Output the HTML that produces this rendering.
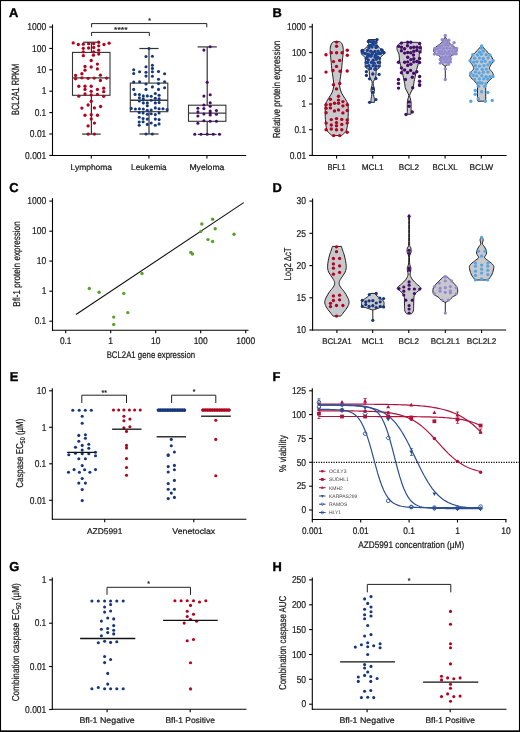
<!DOCTYPE html><html><head><meta charset="utf-8"><style>html,body{margin:0;padding:0;background:#fff}svg{display:block;will-change:transform}text{font-family:"Liberation Sans",sans-serif;stroke:currentColor;stroke-width:0.22px;paint-order:stroke;text-rendering:geometricPrecision}</style></head><body>
<svg width="520" height="732" viewBox="0 0 520 732">
<rect x="0" y="0" width="520" height="732" fill="#fff"/>
<text x="9" y="17.2" font-size="12.9" font-weight="bold" fill="#000" style="stroke:#000;stroke-width:0.35px">A</text>
<line x1="52.5" y1="24.4" x2="52.5" y2="156" stroke="#000" stroke-width="1.1" />
<line x1="49.3" y1="27" x2="52.5" y2="27" stroke="#000" stroke-width="1.1" />
<text x="46.3" y="30.2" font-size="10" text-anchor="end" font-weight="normal" fill="#1a1a1a" color="#1a1a1a" textLength="19.08" lengthAdjust="spacingAndGlyphs" >1000</text>
<line x1="49.3" y1="48.4" x2="52.5" y2="48.4" stroke="#000" stroke-width="1.1" />
<text x="46.3" y="51.6" font-size="10" text-anchor="end" font-weight="normal" fill="#1a1a1a" color="#1a1a1a" textLength="14.2" lengthAdjust="spacingAndGlyphs" >100</text>
<line x1="49.3" y1="69.8" x2="52.5" y2="69.8" stroke="#000" stroke-width="1.1" />
<text x="46.3" y="73" font-size="10" text-anchor="end" font-weight="normal" fill="#1a1a1a" color="#1a1a1a" textLength="9.43" lengthAdjust="spacingAndGlyphs" >10</text>
<line x1="49.3" y1="91.2" x2="52.5" y2="91.2" stroke="#000" stroke-width="1.1" />
<text x="46.3" y="94.4" font-size="10" text-anchor="end" font-weight="normal" fill="#1a1a1a" color="#1a1a1a" textLength="4.66" lengthAdjust="spacingAndGlyphs" >1</text>
<line x1="49.3" y1="112.6" x2="52.5" y2="112.6" stroke="#000" stroke-width="1.1" />
<text x="46.3" y="115.8" font-size="10" text-anchor="end" font-weight="normal" fill="#1a1a1a" color="#1a1a1a" textLength="11.66" lengthAdjust="spacingAndGlyphs" >0.1</text>
<line x1="49.3" y1="134" x2="52.5" y2="134" stroke="#000" stroke-width="1.1" />
<text x="46.3" y="137.2" font-size="10" text-anchor="end" font-weight="normal" fill="#1a1a1a" color="#1a1a1a" textLength="16.43" lengthAdjust="spacingAndGlyphs" >0.01</text>
<line x1="49.3" y1="155.4" x2="52.5" y2="155.4" stroke="#000" stroke-width="1.1" />
<text x="46.3" y="158.6" font-size="10" text-anchor="end" font-weight="normal" fill="#1a1a1a" color="#1a1a1a" textLength="21.2" lengthAdjust="spacingAndGlyphs" >0.001</text>
<line x1="52" y1="155.5" x2="246.2" y2="155.5" stroke="#000" stroke-width="1.1" />
<line x1="91.3" y1="155.5" x2="91.3" y2="158.5" stroke="#000" stroke-width="1.1" />
<text x="91.3" y="169.6" font-size="8.2" text-anchor="middle" font-weight="normal" fill="#1a1a1a" color="#1a1a1a" textLength="41.5" lengthAdjust="spacingAndGlyphs" >Lymphoma</text>
<line x1="148.9" y1="155.5" x2="148.9" y2="158.5" stroke="#000" stroke-width="1.1" />
<text x="148.9" y="169.6" font-size="8.2" text-anchor="middle" font-weight="normal" fill="#1a1a1a" color="#1a1a1a" textLength="35.6" lengthAdjust="spacingAndGlyphs" >Leukemia</text>
<line x1="206.9" y1="155.5" x2="206.9" y2="158.5" stroke="#000" stroke-width="1.1" />
<text x="206.9" y="169.6" font-size="8.2" text-anchor="middle" font-weight="normal" fill="#1a1a1a" color="#1a1a1a" textLength="35" lengthAdjust="spacingAndGlyphs" >Myeloma</text>
<text transform="translate(19,89.4) rotate(-90)" font-size="10.5" text-anchor="middle" fill="#1a1a1a" color="#1a1a1a" textLength="51.4" lengthAdjust="spacingAndGlyphs">BCL2A1 RPKM</text>
<path d="M91.6 27.3 V23.6 H206.8 V27.3" fill="none" stroke="#222" stroke-width="1"/>
<path d="M91.6 36 V32.4 H149.3 V36" fill="none" stroke="#222" stroke-width="1"/>
<text x="149.6" y="23.2" font-size="7" text-anchor="middle" font-weight="normal" fill="#222" color="#222" >*</text>
<text x="120.8" y="31.8" font-size="7" text-anchor="middle" font-weight="normal" fill="#222" color="#222" textLength="13.5" lengthAdjust="spacingAndGlyphs" >****</text>
<rect x="72.5" y="52.4" width="37.5" height="42.9" fill="none" stroke="#333" stroke-width="1.1"/>
<line x1="72.5" y1="77.9" x2="110" y2="77.9" stroke="#3a3a3a" stroke-width="1.4" />
<line x1="91.4" y1="42.25" x2="91.4" y2="52.4" stroke="#333" stroke-width="1.2" />
<line x1="91.4" y1="95.3" x2="91.4" y2="134.1" stroke="#333" stroke-width="1.2" />
<line x1="83.2" y1="42.25" x2="99.6" y2="42.25" stroke="#333" stroke-width="1.2" />
<line x1="82.1" y1="134.1" x2="100.7" y2="134.1" stroke="#333" stroke-width="1.2" />
<rect x="130.3" y="83.1" width="37.5" height="28.6" fill="none" stroke="#333" stroke-width="1.1"/>
<line x1="130.3" y1="100.2" x2="167.8" y2="100.2" stroke="#3a3a3a" stroke-width="1.4" />
<line x1="149" y1="48.5" x2="149" y2="83.1" stroke="#333" stroke-width="1.2" />
<line x1="149" y1="111.7" x2="149" y2="134" stroke="#333" stroke-width="1.2" />
<line x1="139.4" y1="48.5" x2="158.6" y2="48.5" stroke="#333" stroke-width="1.2" />
<line x1="139.4" y1="134" x2="158.6" y2="134" stroke="#333" stroke-width="1.2" />
<rect x="188.5" y="105.2" width="37.4" height="16.1" fill="none" stroke="#333" stroke-width="1.1"/>
<line x1="188.5" y1="113.1" x2="225.9" y2="113.1" stroke="#3a3a3a" stroke-width="1.4" />
<line x1="207.2" y1="46.9" x2="207.2" y2="105.2" stroke="#333" stroke-width="1.2" />
<line x1="207.2" y1="121.3" x2="207.2" y2="134.4" stroke="#333" stroke-width="1.2" />
<line x1="197.6" y1="46.9" x2="216.8" y2="46.9" stroke="#333" stroke-width="1.2" />
<line x1="197.8" y1="134.4" x2="216.6" y2="134.4" stroke="#333" stroke-width="1.2" />
<circle cx="73.2" cy="42.9" r="1.65" fill="#b0041f"/>
<circle cx="78.3" cy="44.5" r="1.65" fill="#b0041f"/>
<circle cx="83.3" cy="44.2" r="1.65" fill="#b0041f"/>
<circle cx="88.6" cy="43.7" r="1.65" fill="#b0041f"/>
<circle cx="93.7" cy="43.7" r="1.65" fill="#b0041f"/>
<circle cx="98.7" cy="42.25" r="1.65" fill="#b0041f"/>
<circle cx="104" cy="44.5" r="1.65" fill="#b0041f"/>
<circle cx="109.1" cy="43.2" r="1.65" fill="#b0041f"/>
<circle cx="98.7" cy="45.8" r="1.65" fill="#b0041f"/>
<circle cx="83.3" cy="48.3" r="1.65" fill="#b0041f"/>
<circle cx="88.6" cy="48" r="1.65" fill="#b0041f"/>
<circle cx="93.7" cy="47.5" r="1.65" fill="#b0041f"/>
<circle cx="98.7" cy="50.2" r="1.65" fill="#b0041f"/>
<circle cx="83.3" cy="51.9" r="1.65" fill="#b0041f"/>
<circle cx="93.7" cy="51.9" r="1.65" fill="#b0041f"/>
<circle cx="83.3" cy="55.7" r="1.65" fill="#b0041f"/>
<circle cx="93.4" cy="55.2" r="1.65" fill="#b0041f"/>
<circle cx="98.7" cy="54.1" r="1.65" fill="#b0041f"/>
<circle cx="91.2" cy="60.5" r="1.65" fill="#b0041f"/>
<circle cx="97.4" cy="64.1" r="1.65" fill="#b0041f"/>
<circle cx="85" cy="66.5" r="1.65" fill="#b0041f"/>
<circle cx="91.2" cy="67" r="1.65" fill="#b0041f"/>
<circle cx="97.4" cy="68.9" r="1.65" fill="#b0041f"/>
<circle cx="85" cy="70.2" r="1.65" fill="#b0041f"/>
<circle cx="81.9" cy="73.75" r="1.65" fill="#b0041f"/>
<circle cx="75.6" cy="75.4" r="1.65" fill="#b0041f"/>
<circle cx="100.4" cy="75.2" r="1.65" fill="#b0041f"/>
<circle cx="75.6" cy="78.8" r="1.65" fill="#b0041f"/>
<circle cx="81.9" cy="77.8" r="1.65" fill="#b0041f"/>
<circle cx="88.1" cy="78.3" r="1.65" fill="#b0041f"/>
<circle cx="94.2" cy="78.1" r="1.65" fill="#b0041f"/>
<circle cx="100.4" cy="80.5" r="1.65" fill="#b0041f"/>
<circle cx="106.6" cy="78.1" r="1.65" fill="#b0041f"/>
<circle cx="78.8" cy="86.25" r="1.65" fill="#b0041f"/>
<circle cx="85" cy="86.25" r="1.65" fill="#b0041f"/>
<circle cx="91.2" cy="86.25" r="1.65" fill="#b0041f"/>
<circle cx="85" cy="89.4" r="1.65" fill="#b0041f"/>
<circle cx="91.2" cy="91.3" r="1.65" fill="#b0041f"/>
<circle cx="97.4" cy="89.4" r="1.65" fill="#b0041f"/>
<circle cx="103.7" cy="88.2" r="1.65" fill="#b0041f"/>
<circle cx="103.7" cy="91.7" r="1.65" fill="#b0041f"/>
<circle cx="85" cy="94" r="1.65" fill="#b0041f"/>
<circle cx="91.2" cy="94.9" r="1.65" fill="#b0041f"/>
<circle cx="97.4" cy="94.4" r="1.65" fill="#b0041f"/>
<circle cx="78.8" cy="96.2" r="1.65" fill="#b0041f"/>
<circle cx="103.7" cy="96.3" r="1.65" fill="#b0041f"/>
<circle cx="91.25" cy="101.25" r="1.65" fill="#b0041f"/>
<circle cx="88.1" cy="105" r="1.65" fill="#b0041f"/>
<circle cx="81.9" cy="108.1" r="1.65" fill="#b0041f"/>
<circle cx="94.4" cy="107.9" r="1.65" fill="#b0041f"/>
<circle cx="100.6" cy="106.5" r="1.65" fill="#b0041f"/>
<circle cx="85" cy="115.25" r="1.65" fill="#b0041f"/>
<circle cx="91.25" cy="114.75" r="1.65" fill="#b0041f"/>
<circle cx="97.5" cy="115.25" r="1.65" fill="#b0041f"/>
<circle cx="91.25" cy="119" r="1.65" fill="#b0041f"/>
<circle cx="94.4" cy="123.1" r="1.65" fill="#b0041f"/>
<circle cx="88.1" cy="125.9" r="1.65" fill="#b0041f"/>
<circle cx="88.1" cy="134.1" r="1.65" fill="#b0041f"/>
<circle cx="94.4" cy="134.1" r="1.65" fill="#b0041f"/>
<circle cx="149" cy="48.5" r="1.55" fill="#17377c"/>
<circle cx="146" cy="56.5" r="1.55" fill="#17377c"/>
<circle cx="152.4" cy="56.2" r="1.55" fill="#17377c"/>
<circle cx="146" cy="66.7" r="1.55" fill="#17377c"/>
<circle cx="152.4" cy="65.2" r="1.55" fill="#17377c"/>
<circle cx="152.4" cy="68.4" r="1.55" fill="#17377c"/>
<circle cx="133.7" cy="69.8" r="1.55" fill="#17377c"/>
<circle cx="133.7" cy="73.5" r="1.55" fill="#17377c"/>
<circle cx="139.6" cy="71.7" r="1.55" fill="#17377c"/>
<circle cx="146" cy="72.2" r="1.55" fill="#17377c"/>
<circle cx="146" cy="76.1" r="1.55" fill="#17377c"/>
<circle cx="152.4" cy="71.7" r="1.55" fill="#17377c"/>
<circle cx="152.4" cy="76.3" r="1.55" fill="#17377c"/>
<circle cx="158.5" cy="71.5" r="1.55" fill="#17377c"/>
<circle cx="164.6" cy="73.8" r="1.55" fill="#17377c"/>
<circle cx="158.5" cy="79.2" r="1.55" fill="#17377c"/>
<circle cx="133.7" cy="82.1" r="1.55" fill="#17377c"/>
<circle cx="139.6" cy="81.8" r="1.55" fill="#17377c"/>
<circle cx="146" cy="84" r="1.55" fill="#17377c"/>
<circle cx="158.5" cy="83.6" r="1.55" fill="#17377c"/>
<circle cx="164.6" cy="81.8" r="1.55" fill="#17377c"/>
<circle cx="152.4" cy="86.9" r="1.55" fill="#17377c"/>
<circle cx="133.7" cy="89.4" r="1.55" fill="#17377c"/>
<circle cx="146" cy="89.4" r="1.55" fill="#17377c"/>
<circle cx="158.5" cy="89.4" r="1.55" fill="#17377c"/>
<circle cx="164.6" cy="87.7" r="1.55" fill="#17377c"/>
<circle cx="135.1" cy="94.4" r="1.55" fill="#17377c"/>
<circle cx="139.4" cy="94.6" r="1.55" fill="#17377c"/>
<circle cx="143.3" cy="95.9" r="1.55" fill="#17377c"/>
<circle cx="147.3" cy="95.9" r="1.55" fill="#17377c"/>
<circle cx="151.2" cy="96.3" r="1.55" fill="#17377c"/>
<circle cx="155.3" cy="93.5" r="1.55" fill="#17377c"/>
<circle cx="159.1" cy="95.2" r="1.55" fill="#17377c"/>
<circle cx="139.4" cy="97.8" r="1.55" fill="#17377c"/>
<circle cx="143.3" cy="98.75" r="1.55" fill="#17377c"/>
<circle cx="151.2" cy="100.2" r="1.55" fill="#17377c"/>
<circle cx="155.3" cy="98.3" r="1.55" fill="#17377c"/>
<circle cx="159.1" cy="98.75" r="1.55" fill="#17377c"/>
<circle cx="139.4" cy="101" r="1.55" fill="#17377c"/>
<circle cx="143.3" cy="102.9" r="1.55" fill="#17377c"/>
<circle cx="147.3" cy="102.9" r="1.55" fill="#17377c"/>
<circle cx="155.3" cy="102.9" r="1.55" fill="#17377c"/>
<circle cx="159.1" cy="102.6" r="1.55" fill="#17377c"/>
<circle cx="147.3" cy="105.8" r="1.55" fill="#17377c"/>
<circle cx="131.25" cy="108.4" r="1.55" fill="#17377c"/>
<circle cx="135.4" cy="109" r="1.55" fill="#17377c"/>
<circle cx="139.4" cy="108.8" r="1.55" fill="#17377c"/>
<circle cx="143.3" cy="109" r="1.55" fill="#17377c"/>
<circle cx="147.3" cy="110.3" r="1.55" fill="#17377c"/>
<circle cx="151.2" cy="110" r="1.55" fill="#17377c"/>
<circle cx="155.3" cy="107.9" r="1.55" fill="#17377c"/>
<circle cx="159.1" cy="108.7" r="1.55" fill="#17377c"/>
<circle cx="163" cy="108.8" r="1.55" fill="#17377c"/>
<circle cx="167.1" cy="109.6" r="1.55" fill="#17377c"/>
<circle cx="139.2" cy="112.4" r="1.55" fill="#17377c"/>
<circle cx="143.1" cy="112.9" r="1.55" fill="#17377c"/>
<circle cx="147.3" cy="114.3" r="1.55" fill="#17377c"/>
<circle cx="151.2" cy="113.8" r="1.55" fill="#17377c"/>
<circle cx="155.3" cy="114.6" r="1.55" fill="#17377c"/>
<circle cx="159.1" cy="112.9" r="1.55" fill="#17377c"/>
<circle cx="139.2" cy="117.2" r="1.55" fill="#17377c"/>
<circle cx="143.1" cy="118.5" r="1.55" fill="#17377c"/>
<circle cx="147.3" cy="119.1" r="1.55" fill="#17377c"/>
<circle cx="155.3" cy="119.1" r="1.55" fill="#17377c"/>
<circle cx="159.1" cy="119.6" r="1.55" fill="#17377c"/>
<circle cx="139.2" cy="122" r="1.55" fill="#17377c"/>
<circle cx="143.1" cy="121.7" r="1.55" fill="#17377c"/>
<circle cx="147.3" cy="124.4" r="1.55" fill="#17377c"/>
<circle cx="151.2" cy="123" r="1.55" fill="#17377c"/>
<circle cx="139.2" cy="125.2" r="1.55" fill="#17377c"/>
<circle cx="155.3" cy="125.2" r="1.55" fill="#17377c"/>
<circle cx="159.1" cy="123.9" r="1.55" fill="#17377c"/>
<circle cx="146" cy="134" r="1.55" fill="#17377c"/>
<circle cx="152.4" cy="134" r="1.55" fill="#17377c"/>
<circle cx="210.1" cy="46.7" r="1.55" fill="#450d68"/>
<circle cx="203.9" cy="50.1" r="1.55" fill="#450d68"/>
<circle cx="207.2" cy="82.3" r="1.55" fill="#450d68"/>
<circle cx="203.9" cy="96.1" r="1.55" fill="#450d68"/>
<circle cx="210.2" cy="94.8" r="1.55" fill="#450d68"/>
<circle cx="210.2" cy="102.8" r="1.55" fill="#450d68"/>
<circle cx="203.9" cy="105" r="1.55" fill="#450d68"/>
<circle cx="210.2" cy="106.2" r="1.55" fill="#450d68"/>
<circle cx="197.9" cy="108.3" r="1.55" fill="#450d68"/>
<circle cx="203.9" cy="108.6" r="1.55" fill="#450d68"/>
<circle cx="197.9" cy="111.9" r="1.55" fill="#450d68"/>
<circle cx="210.2" cy="111" r="1.55" fill="#450d68"/>
<circle cx="216.4" cy="110.5" r="1.55" fill="#450d68"/>
<circle cx="203.9" cy="114" r="1.55" fill="#450d68"/>
<circle cx="210.2" cy="112.9" r="1.55" fill="#450d68"/>
<circle cx="210.2" cy="115" r="1.55" fill="#450d68"/>
<circle cx="216.4" cy="114.3" r="1.55" fill="#450d68"/>
<circle cx="197.9" cy="116" r="1.55" fill="#450d68"/>
<circle cx="203.9" cy="120.8" r="1.55" fill="#450d68"/>
<circle cx="210.2" cy="121.3" r="1.55" fill="#450d68"/>
<circle cx="216.4" cy="121.3" r="1.55" fill="#450d68"/>
<circle cx="197.9" cy="123.3" r="1.55" fill="#450d68"/>
<circle cx="194.8" cy="134.2" r="1.55" fill="#450d68"/>
<circle cx="201" cy="134.2" r="1.55" fill="#450d68"/>
<circle cx="207.2" cy="134.2" r="1.55" fill="#450d68"/>
<circle cx="213.25" cy="134.2" r="1.55" fill="#450d68"/>
<circle cx="219.5" cy="134.2" r="1.55" fill="#450d68"/>
<text x="272.6" y="17.2" font-size="12.9" font-weight="bold" fill="#000" style="stroke:#000;stroke-width:0.35px">B</text>
<line x1="312.3" y1="23.8" x2="312.3" y2="156" stroke="#000" stroke-width="1.1" />
<line x1="309.1" y1="26.9" x2="312.3" y2="26.9" stroke="#000" stroke-width="1.1" />
<text x="306.1" y="30.1" font-size="10" text-anchor="end" font-weight="normal" fill="#1a1a1a" color="#1a1a1a" textLength="19.08" lengthAdjust="spacingAndGlyphs" >1000</text>
<line x1="309.1" y1="52.6" x2="312.3" y2="52.6" stroke="#000" stroke-width="1.1" />
<text x="306.1" y="55.8" font-size="10" text-anchor="end" font-weight="normal" fill="#1a1a1a" color="#1a1a1a" textLength="14.2" lengthAdjust="spacingAndGlyphs" >100</text>
<line x1="309.1" y1="78.3" x2="312.3" y2="78.3" stroke="#000" stroke-width="1.1" />
<text x="306.1" y="81.5" font-size="10" text-anchor="end" font-weight="normal" fill="#1a1a1a" color="#1a1a1a" textLength="9.43" lengthAdjust="spacingAndGlyphs" >10</text>
<line x1="309.1" y1="104" x2="312.3" y2="104" stroke="#000" stroke-width="1.1" />
<text x="306.1" y="107.2" font-size="10" text-anchor="end" font-weight="normal" fill="#1a1a1a" color="#1a1a1a" textLength="4.66" lengthAdjust="spacingAndGlyphs" >1</text>
<line x1="309.1" y1="129.7" x2="312.3" y2="129.7" stroke="#000" stroke-width="1.1" />
<text x="306.1" y="132.9" font-size="10" text-anchor="end" font-weight="normal" fill="#1a1a1a" color="#1a1a1a" textLength="11.66" lengthAdjust="spacingAndGlyphs" >0.1</text>
<line x1="309.1" y1="155.4" x2="312.3" y2="155.4" stroke="#000" stroke-width="1.1" />
<text x="306.1" y="158.6" font-size="10" text-anchor="end" font-weight="normal" fill="#1a1a1a" color="#1a1a1a" textLength="16.43" lengthAdjust="spacingAndGlyphs" >0.01</text>
<line x1="312" y1="155.5" x2="506.6" y2="155.5" stroke="#000" stroke-width="1.1" />
<line x1="336.6" y1="155.5" x2="336.6" y2="158.5" stroke="#000" stroke-width="1.1" />
<text x="336.6" y="169.6" font-size="8.2" text-anchor="middle" font-weight="normal" fill="#1a1a1a" color="#1a1a1a" textLength="18" lengthAdjust="spacingAndGlyphs" >BFL1</text>
<line x1="372.7" y1="155.5" x2="372.7" y2="158.5" stroke="#000" stroke-width="1.1" />
<text x="372.7" y="169.6" font-size="8.2" text-anchor="middle" font-weight="normal" fill="#1a1a1a" color="#1a1a1a" textLength="22" lengthAdjust="spacingAndGlyphs" >MCL1</text>
<line x1="408.9" y1="155.5" x2="408.9" y2="158.5" stroke="#000" stroke-width="1.1" />
<text x="408.9" y="169.6" font-size="8.2" text-anchor="middle" font-weight="normal" fill="#1a1a1a" color="#1a1a1a" textLength="20.4" lengthAdjust="spacingAndGlyphs" >BCL2</text>
<line x1="445.1" y1="155.5" x2="445.1" y2="158.5" stroke="#000" stroke-width="1.1" />
<text x="445.1" y="169.6" font-size="8.2" text-anchor="middle" font-weight="normal" fill="#1a1a1a" color="#1a1a1a" textLength="25" lengthAdjust="spacingAndGlyphs" >BCLXL</text>
<line x1="481.3" y1="155.5" x2="481.3" y2="158.5" stroke="#000" stroke-width="1.1" />
<text x="481.3" y="169.6" font-size="8.2" text-anchor="middle" font-weight="normal" fill="#1a1a1a" color="#1a1a1a" textLength="23.6" lengthAdjust="spacingAndGlyphs" >BCLW</text>
<text transform="translate(279.6,89.5) rotate(-90)" font-size="10.2" text-anchor="middle" fill="#1a1a1a" color="#1a1a1a" textLength="97.5" lengthAdjust="spacingAndGlyphs">Relative protein expression</text>
<path d="M339.7 41.7 C340.02 41.95 341.05 42.32 341.6 43.2 C342.15 44.08 342.73 45.45 343 47 C343.27 48.55 343.29 50.33 343.2 52.5 C343.11 54.67 342.76 56.92 342.45 60 C342.14 63.08 341.79 67.33 341.35 71 C340.91 74.67 340.06 79.33 339.8 82 C339.54 84.67 339.51 85.17 339.8 87 C340.09 88.83 340.67 91.05 341.55 93 C342.43 94.95 344.02 96.87 345.1 98.7 C346.17 100.53 347.48 102.62 348 104 C348.52 105.38 348.2 104.4 348.2 107 C348.2 109.6 348.28 115.77 348 119.6 C347.72 123.43 347.35 127.53 346.5 130 C345.65 132.47 343.82 133.47 342.9 134.4 C341.98 135.33 341.32 135.4 341 135.6 L332.4 135.6 C332.08 135.4 331.42 135.33 330.5 134.4 C329.58 133.47 327.75 132.47 326.9 130 C326.05 127.53 325.68 123.43 325.4 119.6 C325.12 115.77 325.2 109.6 325.2 107 C325.2 104.4 324.88 105.38 325.4 104 C325.92 102.62 327.23 100.53 328.3 98.7 C329.38 96.87 330.97 94.95 331.85 93 C332.73 91.05 333.31 88.83 333.6 87 C333.89 85.17 333.86 84.67 333.6 82 C333.34 79.33 332.49 74.67 332.05 71 C331.61 67.33 331.26 63.08 330.95 60 C330.64 56.92 330.29 54.67 330.2 52.5 C330.11 50.33 330.13 48.55 330.4 47 C330.67 45.45 331.25 44.08 331.8 43.2 C332.35 42.32 333.38 41.95 333.7 41.7 Z" fill="#c9c9cd" stroke="#222" stroke-width="1.0" stroke-linejoin="round"/>
<circle cx="336.6" cy="42.1" r="1.7" fill="#b0041f"/>
<circle cx="336.6" cy="46.3" r="1.7" fill="#b0041f"/>
<circle cx="347.3" cy="50.3" r="1.7" fill="#b0041f"/>
<circle cx="331.3" cy="52.7" r="1.7" fill="#b0041f"/>
<circle cx="336.6" cy="52.7" r="1.7" fill="#b0041f"/>
<circle cx="342.1" cy="52.7" r="1.7" fill="#b0041f"/>
<circle cx="326" cy="54.7" r="1.7" fill="#b0041f"/>
<circle cx="347.3" cy="55.3" r="1.7" fill="#b0041f"/>
<circle cx="339.7" cy="60.4" r="1.7" fill="#b0041f"/>
<circle cx="333.5" cy="61.6" r="1.7" fill="#b0041f"/>
<circle cx="336.5" cy="66.4" r="1.7" fill="#b0041f"/>
<circle cx="333" cy="70.5" r="1.7" fill="#b0041f"/>
<circle cx="340.1" cy="71.3" r="1.7" fill="#b0041f"/>
<circle cx="326" cy="72.1" r="1.7" fill="#b0041f"/>
<circle cx="347.2" cy="71" r="1.7" fill="#b0041f"/>
<circle cx="333.5" cy="84.7" r="1.7" fill="#b0041f"/>
<circle cx="339.7" cy="83.5" r="1.7" fill="#b0041f"/>
<circle cx="336.5" cy="88.9" r="1.7" fill="#b0041f"/>
<circle cx="338.5" cy="96.2" r="1.7" fill="#b0041f"/>
<circle cx="330.4" cy="99.3" r="1.7" fill="#b0041f"/>
<circle cx="338.5" cy="100.1" r="1.7" fill="#b0041f"/>
<circle cx="334.5" cy="103.3" r="1.7" fill="#b0041f"/>
<circle cx="338.5" cy="103.2" r="1.7" fill="#b0041f"/>
<circle cx="342.9" cy="101.6" r="1.7" fill="#b0041f"/>
<circle cx="326.1" cy="104.7" r="1.7" fill="#b0041f"/>
<circle cx="330.4" cy="104.5" r="1.7" fill="#b0041f"/>
<circle cx="342.9" cy="105.9" r="1.7" fill="#b0041f"/>
<circle cx="347.2" cy="104.7" r="1.7" fill="#b0041f"/>
<circle cx="326.1" cy="108.2" r="1.7" fill="#b0041f"/>
<circle cx="330.4" cy="107.9" r="1.7" fill="#b0041f"/>
<circle cx="334.5" cy="111" r="1.7" fill="#b0041f"/>
<circle cx="338.5" cy="109.9" r="1.7" fill="#b0041f"/>
<circle cx="342.9" cy="112.9" r="1.7" fill="#b0041f"/>
<circle cx="347.2" cy="110.5" r="1.7" fill="#b0041f"/>
<circle cx="326.1" cy="112.7" r="1.7" fill="#b0041f"/>
<circle cx="331.3" cy="119.6" r="1.7" fill="#b0041f"/>
<circle cx="336.5" cy="118.6" r="1.7" fill="#b0041f"/>
<circle cx="341.8" cy="119.4" r="1.7" fill="#b0041f"/>
<circle cx="347.2" cy="120" r="1.7" fill="#b0041f"/>
<circle cx="326.1" cy="123.1" r="1.7" fill="#b0041f"/>
<circle cx="336.5" cy="122.6" r="1.7" fill="#b0041f"/>
<circle cx="347.2" cy="123.1" r="1.7" fill="#b0041f"/>
<circle cx="331.3" cy="125" r="1.7" fill="#b0041f"/>
<circle cx="336.5" cy="125.7" r="1.7" fill="#b0041f"/>
<circle cx="341.8" cy="124.4" r="1.7" fill="#b0041f"/>
<circle cx="331.3" cy="129" r="1.7" fill="#b0041f"/>
<circle cx="336.5" cy="129.8" r="1.7" fill="#b0041f"/>
<circle cx="341.8" cy="129.8" r="1.7" fill="#b0041f"/>
<circle cx="326.1" cy="129.8" r="1.7" fill="#b0041f"/>
<circle cx="347.2" cy="132.2" r="1.7" fill="#b0041f"/>
<circle cx="333.6" cy="135.6" r="1.7" fill="#b0041f"/>
<circle cx="339.7" cy="135.6" r="1.7" fill="#b0041f"/>
<path d="M376.9 39.6 C376.92 40.43 376.53 43.2 377 44.6 C377.47 46 378.53 46.9 379.7 48 C380.87 49.1 383.37 50.1 384 51.2 C384.63 52.3 384.12 53.52 383.5 54.6 C382.88 55.68 380.85 56.03 380.3 57.7 C379.75 59.37 380.3 62.97 380.2 64.6 C380.1 66.23 380.32 66.6 379.7 67.5 C379.08 68.4 377.1 69.08 376.5 70 C375.9 70.92 376.27 71.67 376.1 73 C375.93 74.33 375.95 76.58 375.5 78 C375.05 79.42 373.75 80.27 373.4 81.5 C373.05 82.73 373.25 84.23 373.4 85.4 C373.55 86.57 374.15 87.48 374.3 88.5 C374.45 89.52 374.42 90.5 374.3 91.5 C374.18 92.5 373.6 93.33 373.6 94.5 C373.6 95.67 374.15 97.2 374.3 98.5 C374.45 99.8 374.47 101.67 374.5 102.3 L370.9 102.3 C370.93 101.67 370.95 99.8 371.1 98.5 C371.25 97.2 371.8 95.67 371.8 94.5 C371.8 93.33 371.22 92.5 371.1 91.5 C370.98 90.5 370.95 89.52 371.1 88.5 C371.25 87.48 371.85 86.57 372 85.4 C372.15 84.23 372.35 82.73 372 81.5 C371.65 80.27 370.35 79.42 369.9 78 C369.45 76.58 369.47 74.33 369.3 73 C369.13 71.67 369.5 70.92 368.9 70 C368.3 69.08 366.32 68.4 365.7 67.5 C365.08 66.6 365.3 66.23 365.2 64.6 C365.1 62.97 365.65 59.37 365.1 57.7 C364.55 56.03 362.52 55.68 361.9 54.6 C361.28 53.52 360.77 52.3 361.4 51.2 C362.03 50.1 364.53 49.1 365.7 48 C366.87 46.9 367.93 46 368.4 44.6 C368.87 43.2 368.48 40.43 368.5 39.6 Z" fill="#c9c9cd" stroke="#222" stroke-width="1.0" stroke-linejoin="round"/>
<circle cx="368.66" cy="41.15" r="1.7" fill="#1d4390"/>
<circle cx="372.91" cy="41.75" r="1.7" fill="#1d4390"/>
<circle cx="375.73" cy="42.18" r="1.7" fill="#1d4390"/>
<circle cx="370.46" cy="45.42" r="1.7" fill="#1d4390"/>
<circle cx="373.91" cy="44.21" r="1.7" fill="#1d4390"/>
<circle cx="368.87" cy="47.89" r="1.7" fill="#1d4390"/>
<circle cx="372.12" cy="47.11" r="1.7" fill="#1d4390"/>
<circle cx="376.02" cy="47.5" r="1.7" fill="#1d4390"/>
<circle cx="362.81" cy="50.47" r="1.7" fill="#1d4390"/>
<circle cx="367.35" cy="50.4" r="1.7" fill="#1d4390"/>
<circle cx="370.8" cy="51.29" r="1.7" fill="#1d4390"/>
<circle cx="374.91" cy="51.45" r="1.7" fill="#1d4390"/>
<circle cx="378.09" cy="51.14" r="1.7" fill="#1d4390"/>
<circle cx="382.09" cy="50.46" r="1.7" fill="#1d4390"/>
<circle cx="364.82" cy="53.33" r="1.7" fill="#1d4390"/>
<circle cx="368.36" cy="54.24" r="1.7" fill="#1d4390"/>
<circle cx="372.01" cy="54.19" r="1.7" fill="#1d4390"/>
<circle cx="376.39" cy="54.04" r="1.7" fill="#1d4390"/>
<circle cx="380.4" cy="53.38" r="1.7" fill="#1d4390"/>
<circle cx="367.34" cy="56.77" r="1.7" fill="#1d4390"/>
<circle cx="370.95" cy="56.32" r="1.7" fill="#1d4390"/>
<circle cx="374.91" cy="57" r="1.7" fill="#1d4390"/>
<circle cx="377.55" cy="57.09" r="1.7" fill="#1d4390"/>
<circle cx="368.39" cy="59.99" r="1.7" fill="#1d4390"/>
<circle cx="373.13" cy="60.18" r="1.7" fill="#1d4390"/>
<circle cx="376.29" cy="59.27" r="1.7" fill="#1d4390"/>
<circle cx="367.66" cy="62.6" r="1.7" fill="#1d4390"/>
<circle cx="371.5" cy="62.41" r="1.7" fill="#1d4390"/>
<circle cx="374.18" cy="63.13" r="1.7" fill="#1d4390"/>
<circle cx="378.24" cy="62.39" r="1.7" fill="#1d4390"/>
<circle cx="368.92" cy="65.66" r="1.7" fill="#1d4390"/>
<circle cx="372.99" cy="65.74" r="1.7" fill="#1d4390"/>
<circle cx="375.81" cy="66.03" r="1.7" fill="#1d4390"/>
<circle cx="370.33" cy="68.39" r="1.7" fill="#1d4390"/>
<circle cx="374.92" cy="69.28" r="1.7" fill="#1d4390"/>
<circle cx="366.4" cy="71.7" r="1.65" fill="#17377c"/>
<circle cx="366.4" cy="75.4" r="1.65" fill="#17377c"/>
<circle cx="372.8" cy="74" r="1.65" fill="#17377c"/>
<circle cx="379.1" cy="74.4" r="1.65" fill="#17377c"/>
<circle cx="369.6" cy="78.8" r="1.65" fill="#17377c"/>
<circle cx="375.9" cy="78.5" r="1.65" fill="#17377c"/>
<circle cx="372.8" cy="88.5" r="1.65" fill="#17377c"/>
<circle cx="372.8" cy="92.3" r="1.65" fill="#17377c"/>
<circle cx="375.9" cy="99.6" r="1.65" fill="#17377c"/>
<circle cx="369.6" cy="102.3" r="1.65" fill="#17377c"/>
<circle cx="377" cy="39.6" r="1.65" fill="#17377c"/>
<circle cx="368.4" cy="41.5" r="1.65" fill="#17377c"/>
<circle cx="362" cy="50.7" r="1.65" fill="#17377c"/>
<circle cx="384" cy="52.7" r="1.65" fill="#17377c"/>
<circle cx="381.7" cy="49.8" r="1.65" fill="#17377c"/>
<circle cx="377" cy="46.7" r="1.65" fill="#17377c"/>
<circle cx="363" cy="52.8" r="1.65" fill="#1d4390"/>
<circle cx="366.5" cy="53.8" r="1.65" fill="#1d4390"/>
<circle cx="379" cy="53.5" r="1.65" fill="#1d4390"/>
<circle cx="382.3" cy="52.2" r="1.65" fill="#1d4390"/>
<circle cx="366.3" cy="58.5" r="1.65" fill="#1d4390"/>
<circle cx="366.2" cy="62.5" r="1.65" fill="#1d4390"/>
<circle cx="366.5" cy="66.3" r="1.65" fill="#1d4390"/>
<circle cx="379.4" cy="58.3" r="1.65" fill="#1d4390"/>
<circle cx="379.4" cy="62.3" r="1.65" fill="#1d4390"/>
<circle cx="378.8" cy="66.2" r="1.65" fill="#1d4390"/>
<circle cx="369.3" cy="46.2" r="1.65" fill="#1d4390"/>
<circle cx="376.2" cy="46.5" r="1.65" fill="#1d4390"/>
<circle cx="372.7" cy="44.2" r="1.65" fill="#1d4390"/>
<circle cx="370" cy="68.3" r="1.65" fill="#1d4390"/>
<circle cx="375.5" cy="68.6" r="1.65" fill="#1d4390"/>
<circle cx="371" cy="41.6" r="1.65" fill="#1d4390"/>
<circle cx="373.6" cy="41.6" r="1.65" fill="#1d4390"/>
<circle cx="369.5" cy="55.5" r="1.65" fill="#1d4390"/>
<circle cx="375.5" cy="55.2" r="1.65" fill="#1d4390"/>
<circle cx="372.5" cy="52.5" r="1.65" fill="#1d4390"/>
<path d="M417.6 42.3 C418.2 43 420.62 45.15 421.2 46.5 C421.78 47.85 421.4 49.12 421.1 50.4 C420.8 51.68 419.8 52.28 419.4 54.2 C419 56.12 419.17 59.33 418.7 61.9 C418.23 64.47 417.22 67.03 416.6 69.6 C415.98 72.17 415.52 74.73 415 77.3 C414.48 79.87 413.8 83.27 413.5 85 C413.2 86.73 413.52 86.7 413.2 87.7 C412.88 88.7 412.2 89.72 411.6 91 C411 92.28 409.78 94.07 409.6 95.4 C409.42 96.73 410.25 97.73 410.5 99 C410.75 100.27 411 101.17 411.1 103 C411.2 104.83 411.1 108.13 411.1 110 C411.1 111.87 411.1 113.5 411.1 114.2 L407.3 114.2 C407.3 113.5 407.3 111.87 407.3 110 C407.3 108.13 407.2 104.83 407.3 103 C407.4 101.17 407.65 100.27 407.9 99 C408.15 97.73 408.98 96.73 408.8 95.4 C408.62 94.07 407.4 92.28 406.8 91 C406.2 89.72 405.52 88.7 405.2 87.7 C404.88 86.7 405.2 86.73 404.9 85 C404.6 83.27 403.92 79.87 403.4 77.3 C402.88 74.73 402.42 72.17 401.8 69.6 C401.18 67.03 400.17 64.47 399.7 61.9 C399.23 59.33 399.4 56.12 399 54.2 C398.6 52.28 397.6 51.68 397.3 50.4 C397 49.12 396.62 47.85 397.2 46.5 C397.78 45.15 400.2 43 400.8 42.3 Z" fill="#c9c9cd" stroke="#222" stroke-width="1.0" stroke-linejoin="round"/>
<circle cx="401.4" cy="43.1" r="1.7" fill="#450d68"/>
<circle cx="407.7" cy="42.3" r="1.7" fill="#450d68"/>
<circle cx="410.8" cy="42.3" r="1.7" fill="#450d68"/>
<circle cx="419.6" cy="43.5" r="1.7" fill="#450d68"/>
<circle cx="398.5" cy="46.2" r="1.7" fill="#450d68"/>
<circle cx="407.5" cy="45.8" r="1.7" fill="#450d68"/>
<circle cx="401.4" cy="47.3" r="1.7" fill="#450d68"/>
<circle cx="404.6" cy="48.8" r="1.7" fill="#450d68"/>
<circle cx="410.8" cy="47.7" r="1.7" fill="#450d68"/>
<circle cx="413.8" cy="47.3" r="1.7" fill="#450d68"/>
<circle cx="416.9" cy="47.3" r="1.7" fill="#450d68"/>
<circle cx="420" cy="47.7" r="1.7" fill="#450d68"/>
<circle cx="401.4" cy="50.8" r="1.7" fill="#450d68"/>
<circle cx="404.6" cy="53.1" r="1.7" fill="#450d68"/>
<circle cx="407.7" cy="52.5" r="1.7" fill="#450d68"/>
<circle cx="410.8" cy="52.7" r="1.7" fill="#450d68"/>
<circle cx="413.8" cy="51.2" r="1.7" fill="#450d68"/>
<circle cx="416.9" cy="50.4" r="1.7" fill="#450d68"/>
<circle cx="420" cy="51.9" r="1.7" fill="#450d68"/>
<circle cx="413.5" cy="55" r="1.7" fill="#450d68"/>
<circle cx="407.7" cy="57.2" r="1.7" fill="#450d68"/>
<circle cx="419.6" cy="58.5" r="1.7" fill="#450d68"/>
<circle cx="410.8" cy="59.6" r="1.7" fill="#450d68"/>
<circle cx="413.8" cy="58.8" r="1.7" fill="#450d68"/>
<circle cx="398.5" cy="62.3" r="1.7" fill="#450d68"/>
<circle cx="404.6" cy="62.3" r="1.7" fill="#450d68"/>
<circle cx="407.7" cy="61.9" r="1.7" fill="#450d68"/>
<circle cx="413.8" cy="61.9" r="1.7" fill="#450d68"/>
<circle cx="416.9" cy="61.5" r="1.7" fill="#450d68"/>
<circle cx="419.6" cy="62.5" r="1.7" fill="#450d68"/>
<circle cx="407.7" cy="65.4" r="1.7" fill="#450d68"/>
<circle cx="410.8" cy="64.2" r="1.7" fill="#450d68"/>
<circle cx="401.4" cy="67.9" r="1.7" fill="#450d68"/>
<circle cx="404.6" cy="70" r="1.7" fill="#450d68"/>
<circle cx="410.6" cy="70.4" r="1.7" fill="#450d68"/>
<circle cx="401.4" cy="72.8" r="1.7" fill="#450d68"/>
<circle cx="407.5" cy="72.5" r="1.7" fill="#450d68"/>
<circle cx="413.7" cy="73.3" r="1.7" fill="#450d68"/>
<circle cx="416.8" cy="71.8" r="1.7" fill="#450d68"/>
<circle cx="419.6" cy="76.5" r="1.7" fill="#450d68"/>
<circle cx="412.3" cy="77.3" r="1.7" fill="#450d68"/>
<circle cx="398.5" cy="79.5" r="1.7" fill="#450d68"/>
<circle cx="405.4" cy="79.5" r="1.7" fill="#450d68"/>
<circle cx="419.6" cy="81.2" r="1.7" fill="#450d68"/>
<circle cx="398.5" cy="83.5" r="1.7" fill="#450d68"/>
<circle cx="419.6" cy="84.6" r="1.7" fill="#450d68"/>
<circle cx="398.5" cy="88.1" r="1.7" fill="#450d68"/>
<circle cx="419.6" cy="85.4" r="1.7" fill="#450d68"/>
<circle cx="412.7" cy="87.7" r="1.7" fill="#450d68"/>
<circle cx="409.1" cy="101.9" r="1.7" fill="#450d68"/>
<circle cx="409.1" cy="106.2" r="1.7" fill="#450d68"/>
<circle cx="412.3" cy="111.9" r="1.7" fill="#450d68"/>
<circle cx="406" cy="114.5" r="1.7" fill="#450d68"/>
<path d="M445.7 37.3 C446.18 38.12 447.47 40.83 448.6 42.2 C449.73 43.57 451.17 44.4 452.5 45.5 C453.83 46.6 455.92 47.72 456.6 48.8 C457.28 49.88 457.35 50.92 456.6 52 C455.85 53.08 453.23 54.33 452.1 55.3 C450.97 56.27 450.25 56.57 449.8 57.8 C449.35 59.03 450.08 61.33 449.4 62.7 C448.72 64.07 446.32 65.45 445.7 66 L444.9 66 C444.28 65.45 441.88 64.07 441.2 62.7 C440.52 61.33 441.25 59.03 440.8 57.8 C440.35 56.57 439.63 56.27 438.5 55.3 C437.37 54.33 434.75 53.08 434 52 C433.25 50.92 433.32 49.88 434 48.8 C434.68 47.72 436.77 46.6 438.1 45.5 C439.43 44.4 440.87 43.57 442 42.2 C443.13 40.83 444.42 38.12 444.9 37.3 Z" fill="#c9c9cd" stroke="#222" stroke-width="1.0" stroke-linejoin="round"/>
<line x1="445.3" y1="66" x2="445.3" y2="79.5" stroke="#222" stroke-width="1.0" />
<circle cx="445.62" cy="40.22" r="1.7" fill="#948ad0"/>
<circle cx="443.31" cy="42.61" r="1.7" fill="#948ad0"/>
<circle cx="446.63" cy="43.19" r="1.7" fill="#948ad0"/>
<circle cx="439.05" cy="45.89" r="1.7" fill="#948ad0"/>
<circle cx="441.97" cy="45.6" r="1.7" fill="#948ad0"/>
<circle cx="445.19" cy="45.32" r="1.7" fill="#948ad0"/>
<circle cx="448.3" cy="45.24" r="1.7" fill="#948ad0"/>
<circle cx="452.14" cy="45.55" r="1.7" fill="#948ad0"/>
<circle cx="437.43" cy="48.67" r="1.7" fill="#948ad0"/>
<circle cx="440.3" cy="48.01" r="1.7" fill="#948ad0"/>
<circle cx="443.67" cy="48.41" r="1.7" fill="#948ad0"/>
<circle cx="446.94" cy="48.21" r="1.7" fill="#948ad0"/>
<circle cx="450.01" cy="48.33" r="1.7" fill="#948ad0"/>
<circle cx="453.43" cy="48.19" r="1.7" fill="#948ad0"/>
<circle cx="435.09" cy="50.86" r="1.7" fill="#948ad0"/>
<circle cx="438.77" cy="51.48" r="1.7" fill="#948ad0"/>
<circle cx="441.76" cy="51.03" r="1.7" fill="#948ad0"/>
<circle cx="445.12" cy="51.55" r="1.7" fill="#948ad0"/>
<circle cx="448.78" cy="51.57" r="1.7" fill="#948ad0"/>
<circle cx="452" cy="51.27" r="1.7" fill="#948ad0"/>
<circle cx="455.29" cy="51.28" r="1.7" fill="#948ad0"/>
<circle cx="437.36" cy="54.18" r="1.7" fill="#948ad0"/>
<circle cx="440.71" cy="53.82" r="1.7" fill="#948ad0"/>
<circle cx="443.52" cy="53.7" r="1.7" fill="#948ad0"/>
<circle cx="447.1" cy="53.73" r="1.7" fill="#948ad0"/>
<circle cx="450.02" cy="54.17" r="1.7" fill="#948ad0"/>
<circle cx="453.54" cy="53.93" r="1.7" fill="#948ad0"/>
<circle cx="442.31" cy="57.07" r="1.7" fill="#948ad0"/>
<circle cx="445.56" cy="56.74" r="1.7" fill="#948ad0"/>
<circle cx="448.79" cy="56.86" r="1.7" fill="#948ad0"/>
<circle cx="440.73" cy="59.27" r="1.7" fill="#948ad0"/>
<circle cx="443.87" cy="59.39" r="1.7" fill="#948ad0"/>
<circle cx="446.8" cy="59.27" r="1.7" fill="#948ad0"/>
<circle cx="449.94" cy="59.74" r="1.7" fill="#948ad0"/>
<circle cx="442.33" cy="62.59" r="1.7" fill="#948ad0"/>
<circle cx="445.61" cy="62.1" r="1.7" fill="#948ad0"/>
<circle cx="448.57" cy="62.18" r="1.7" fill="#948ad0"/>
<circle cx="445.3" cy="35.5" r="1.7" fill="#948ad0"/>
<circle cx="442.2" cy="39.8" r="1.7" fill="#948ad0"/>
<circle cx="448.8" cy="40.2" r="1.7" fill="#948ad0"/>
<circle cx="454.1" cy="42.6" r="1.7" fill="#948ad0"/>
<circle cx="434.8" cy="48.4" r="1.7" fill="#948ad0"/>
<circle cx="456.6" cy="48.4" r="1.7" fill="#948ad0"/>
<circle cx="434.4" cy="54.1" r="1.7" fill="#948ad0"/>
<circle cx="456.1" cy="53.7" r="1.7" fill="#948ad0"/>
<circle cx="440.2" cy="59.4" r="1.7" fill="#948ad0"/>
<circle cx="450.4" cy="58.6" r="1.7" fill="#948ad0"/>
<circle cx="440.2" cy="63.1" r="1.7" fill="#948ad0"/>
<circle cx="450.4" cy="61.9" r="1.7" fill="#948ad0"/>
<circle cx="448.4" cy="64.3" r="1.7" fill="#948ad0"/>
<circle cx="445.3" cy="68.9" r="1.7" fill="#948ad0"/>
<circle cx="445.3" cy="79.5" r="1.7" fill="#948ad0"/>
<path d="M482 45.8 C482.63 46.57 484.4 48.87 485.8 50.4 C487.2 51.93 489.18 53.27 490.4 55 C491.62 56.73 493.12 59 493.1 60.8 C493.08 62.6 490.9 64.47 490.3 65.8 C489.7 67.13 489.12 67.65 489.5 68.8 C489.88 69.95 492 71.42 492.6 72.7 C493.2 73.98 493.77 75.08 493.1 76.5 C492.43 77.92 489.78 79.85 488.6 81.2 C487.42 82.55 486.48 83.52 486 84.6 C485.52 85.68 485.75 85.27 485.7 87.7 C485.65 90.13 485.77 96.95 485.7 99.2 C485.63 101.45 485.37 100.87 485.3 101.2 L477.9 101.2 C477.83 100.87 477.57 101.45 477.5 99.2 C477.43 96.95 477.55 90.13 477.5 87.7 C477.45 85.27 477.68 85.68 477.2 84.6 C476.72 83.52 475.78 82.55 474.6 81.2 C473.42 79.85 470.77 77.92 470.1 76.5 C469.43 75.08 470 73.98 470.6 72.7 C471.2 71.42 473.32 69.95 473.7 68.8 C474.08 67.65 473.5 67.13 472.9 65.8 C472.3 64.47 470.12 62.6 470.1 60.8 C470.08 59 471.58 56.73 472.8 55 C474.02 53.27 476 51.93 477.4 50.4 C478.8 48.87 480.57 46.57 481.2 45.8 Z" fill="#c9c9cd" stroke="#222" stroke-width="1.0" stroke-linejoin="round"/>
<circle cx="481.32" cy="47.98" r="1.65" fill="#56a6e4"/>
<circle cx="479.63" cy="52.19" r="1.65" fill="#56a6e4"/>
<circle cx="483.14" cy="51.16" r="1.65" fill="#56a6e4"/>
<circle cx="472.74" cy="54.73" r="1.65" fill="#56a6e4"/>
<circle cx="477.49" cy="54.98" r="1.65" fill="#56a6e4"/>
<circle cx="481.35" cy="54.36" r="1.65" fill="#56a6e4"/>
<circle cx="486.22" cy="54.66" r="1.65" fill="#56a6e4"/>
<circle cx="490.01" cy="55.1" r="1.65" fill="#56a6e4"/>
<circle cx="474.63" cy="58.25" r="1.65" fill="#56a6e4"/>
<circle cx="479.45" cy="58.05" r="1.65" fill="#56a6e4"/>
<circle cx="483.34" cy="58.52" r="1.65" fill="#56a6e4"/>
<circle cx="488.13" cy="57.93" r="1.65" fill="#56a6e4"/>
<circle cx="473.68" cy="62.17" r="1.65" fill="#56a6e4"/>
<circle cx="476.94" cy="61.57" r="1.65" fill="#56a6e4"/>
<circle cx="481.59" cy="61.76" r="1.65" fill="#56a6e4"/>
<circle cx="485.22" cy="61.32" r="1.65" fill="#56a6e4"/>
<circle cx="490.06" cy="62.45" r="1.65" fill="#56a6e4"/>
<circle cx="475.44" cy="65.62" r="1.65" fill="#56a6e4"/>
<circle cx="479.51" cy="66.14" r="1.65" fill="#56a6e4"/>
<circle cx="483.98" cy="65.56" r="1.65" fill="#56a6e4"/>
<circle cx="487.83" cy="64.86" r="1.65" fill="#56a6e4"/>
<circle cx="476.9" cy="69.16" r="1.65" fill="#56a6e4"/>
<circle cx="482.21" cy="69.33" r="1.65" fill="#56a6e4"/>
<circle cx="486.25" cy="69.09" r="1.65" fill="#56a6e4"/>
<circle cx="475.41" cy="72.06" r="1.65" fill="#56a6e4"/>
<circle cx="479.2" cy="72.79" r="1.65" fill="#56a6e4"/>
<circle cx="483.4" cy="72.21" r="1.65" fill="#56a6e4"/>
<circle cx="487.89" cy="72.03" r="1.65" fill="#56a6e4"/>
<circle cx="473.29" cy="75.5" r="1.65" fill="#56a6e4"/>
<circle cx="476.67" cy="75.91" r="1.65" fill="#56a6e4"/>
<circle cx="481.87" cy="75.72" r="1.65" fill="#56a6e4"/>
<circle cx="486.12" cy="76.62" r="1.65" fill="#56a6e4"/>
<circle cx="489.94" cy="76.69" r="1.65" fill="#56a6e4"/>
<circle cx="474.61" cy="79.44" r="1.65" fill="#56a6e4"/>
<circle cx="479.43" cy="78.95" r="1.65" fill="#56a6e4"/>
<circle cx="483.77" cy="78.82" r="1.65" fill="#56a6e4"/>
<circle cx="487.73" cy="79.15" r="1.65" fill="#56a6e4"/>
<circle cx="477.51" cy="82.78" r="1.65" fill="#56a6e4"/>
<circle cx="482.18" cy="83.05" r="1.65" fill="#56a6e4"/>
<circle cx="485.95" cy="83.54" r="1.65" fill="#56a6e4"/>
<circle cx="481.6" cy="46" r="1.7" fill="#56a6e4"/>
<circle cx="470.1" cy="60.8" r="1.7" fill="#56a6e4"/>
<circle cx="493.2" cy="60.8" r="1.7" fill="#56a6e4"/>
<circle cx="470.8" cy="73" r="1.7" fill="#56a6e4"/>
<circle cx="493" cy="76.5" r="1.7" fill="#56a6e4"/>
<circle cx="480.1" cy="82.7" r="1.7" fill="#56a6e4"/>
<circle cx="478.5" cy="86.3" r="1.7" fill="#56a6e4"/>
<circle cx="484.9" cy="86.2" r="1.7" fill="#56a6e4"/>
<circle cx="475.2" cy="90.4" r="1.7" fill="#56a6e4"/>
<circle cx="481.6" cy="91.7" r="1.7" fill="#56a6e4"/>
<circle cx="487.8" cy="92.5" r="1.7" fill="#56a6e4"/>
<circle cx="475.2" cy="94.2" r="1.7" fill="#56a6e4"/>
<circle cx="478.3" cy="98.8" r="1.7" fill="#56a6e4"/>
<circle cx="470.8" cy="101.2" r="1.7" fill="#56a6e4"/>
<circle cx="485.3" cy="101.3" r="1.7" fill="#56a6e4"/>
<circle cx="492.2" cy="100.4" r="1.7" fill="#56a6e4"/>
<text x="9.2" y="192.3" font-size="12.9" font-weight="bold" fill="#000" style="stroke:#000;stroke-width:0.35px">C</text>
<line x1="52.5" y1="198.2" x2="52.5" y2="330.8" stroke="#000" stroke-width="1.1" />
<line x1="49.3" y1="201.1" x2="52.5" y2="201.1" stroke="#000" stroke-width="1.1" />
<text x="46.3" y="204.3" font-size="10" text-anchor="end" font-weight="normal" fill="#1a1a1a" color="#1a1a1a" textLength="19.08" lengthAdjust="spacingAndGlyphs" >1000</text>
<line x1="49.3" y1="231.2" x2="52.5" y2="231.2" stroke="#000" stroke-width="1.1" />
<text x="46.3" y="234.4" font-size="10" text-anchor="end" font-weight="normal" fill="#1a1a1a" color="#1a1a1a" textLength="14.2" lengthAdjust="spacingAndGlyphs" >100</text>
<line x1="49.3" y1="261.1" x2="52.5" y2="261.1" stroke="#000" stroke-width="1.1" />
<text x="46.3" y="264.3" font-size="10" text-anchor="end" font-weight="normal" fill="#1a1a1a" color="#1a1a1a" textLength="9.43" lengthAdjust="spacingAndGlyphs" >10</text>
<line x1="49.3" y1="291.2" x2="52.5" y2="291.2" stroke="#000" stroke-width="1.1" />
<text x="46.3" y="294.4" font-size="10" text-anchor="end" font-weight="normal" fill="#1a1a1a" color="#1a1a1a" textLength="4.66" lengthAdjust="spacingAndGlyphs" >1</text>
<line x1="49.3" y1="321.2" x2="52.5" y2="321.2" stroke="#000" stroke-width="1.1" />
<text x="46.3" y="324.4" font-size="10" text-anchor="end" font-weight="normal" fill="#1a1a1a" color="#1a1a1a" textLength="11.66" lengthAdjust="spacingAndGlyphs" >0.1</text>
<line x1="52" y1="330.2" x2="248.5" y2="330.2" stroke="#000" stroke-width="1.1" />
<line x1="65.7" y1="330.2" x2="65.7" y2="333.2" stroke="#000" stroke-width="1.1" />
<text x="65.7" y="344" font-size="9.6" text-anchor="middle" font-weight="normal" fill="#1a1a1a" color="#1a1a1a" textLength="11.6" lengthAdjust="spacingAndGlyphs" >0.1</text>
<line x1="110.7" y1="330.2" x2="110.7" y2="333.2" stroke="#000" stroke-width="1.1" />
<text x="110.7" y="344" font-size="9.6" text-anchor="middle" font-weight="normal" fill="#1a1a1a" color="#1a1a1a" textLength="4.7" lengthAdjust="spacingAndGlyphs" >1</text>
<line x1="155.7" y1="330.2" x2="155.7" y2="333.2" stroke="#000" stroke-width="1.1" />
<text x="155.7" y="344" font-size="9.6" text-anchor="middle" font-weight="normal" fill="#1a1a1a" color="#1a1a1a" textLength="9.4" lengthAdjust="spacingAndGlyphs" >10</text>
<line x1="200.7" y1="330.2" x2="200.7" y2="333.2" stroke="#000" stroke-width="1.1" />
<text x="200.7" y="344" font-size="9.6" text-anchor="middle" font-weight="normal" fill="#1a1a1a" color="#1a1a1a" textLength="14.1" lengthAdjust="spacingAndGlyphs" >100</text>
<line x1="245.7" y1="330.2" x2="245.7" y2="333.2" stroke="#000" stroke-width="1.1" />
<text x="245.7" y="344" font-size="9.6" text-anchor="middle" font-weight="normal" fill="#1a1a1a" color="#1a1a1a" textLength="18.8" lengthAdjust="spacingAndGlyphs" >1000</text>
<text x="150.9" y="357.6" font-size="9.6" text-anchor="middle" font-weight="normal" fill="#1a1a1a" color="#1a1a1a" textLength="88.5" lengthAdjust="spacingAndGlyphs" >BCL2A1 gene expression</text>
<text transform="translate(20,264) rotate(-90)" font-size="10" text-anchor="middle" fill="#1a1a1a" color="#1a1a1a" textLength="85.3" lengthAdjust="spacingAndGlyphs">Bfl-1 protein expression</text>
<line x1="76" y1="314.5" x2="243.7" y2="202.6" stroke="#111" stroke-width="1.1" />
<circle cx="89.3" cy="288.5" r="1.7" fill="#5aa12a"/>
<circle cx="99.1" cy="292.3" r="1.7" fill="#5aa12a"/>
<circle cx="123.8" cy="293.4" r="1.7" fill="#5aa12a"/>
<circle cx="142" cy="273.5" r="1.7" fill="#5aa12a"/>
<circle cx="127.8" cy="312.6" r="1.7" fill="#5aa12a"/>
<circle cx="113.7" cy="317.1" r="1.7" fill="#5aa12a"/>
<circle cx="113.7" cy="324.5" r="1.7" fill="#5aa12a"/>
<circle cx="201.8" cy="224" r="1.7" fill="#5aa12a"/>
<circle cx="212.6" cy="219.3" r="1.7" fill="#5aa12a"/>
<circle cx="200.8" cy="231.4" r="1.7" fill="#5aa12a"/>
<circle cx="215.2" cy="228.8" r="1.7" fill="#5aa12a"/>
<circle cx="234" cy="234.3" r="1.7" fill="#5aa12a"/>
<circle cx="208" cy="239.6" r="1.7" fill="#5aa12a"/>
<circle cx="212.6" cy="241.5" r="1.7" fill="#5aa12a"/>
<circle cx="190.8" cy="252.5" r="1.7" fill="#5aa12a"/>
<circle cx="192.5" cy="254" r="1.7" fill="#5aa12a"/>
<text x="272.6" y="192.1" font-size="12.9" font-weight="bold" fill="#000" style="stroke:#000;stroke-width:0.35px">D</text>
<line x1="312.6" y1="198.5" x2="312.6" y2="330.6" stroke="#000" stroke-width="1.1" />
<line x1="309.4" y1="201.1" x2="312.6" y2="201.1" stroke="#000" stroke-width="1.1" />
<text x="306.1" y="204.3" font-size="10" text-anchor="end" font-weight="normal" fill="#1a1a1a" color="#1a1a1a" textLength="9.54" lengthAdjust="spacingAndGlyphs" >30</text>
<line x1="309.4" y1="233.3" x2="312.6" y2="233.3" stroke="#000" stroke-width="1.1" />
<text x="306.1" y="236.5" font-size="10" text-anchor="end" font-weight="normal" fill="#1a1a1a" color="#1a1a1a" textLength="9.54" lengthAdjust="spacingAndGlyphs" >25</text>
<line x1="309.4" y1="265.6" x2="312.6" y2="265.6" stroke="#000" stroke-width="1.1" />
<text x="306.1" y="268.8" font-size="10" text-anchor="end" font-weight="normal" fill="#1a1a1a" color="#1a1a1a" textLength="9.54" lengthAdjust="spacingAndGlyphs" >20</text>
<line x1="309.4" y1="297.8" x2="312.6" y2="297.8" stroke="#000" stroke-width="1.1" />
<text x="306.1" y="301" font-size="10" text-anchor="end" font-weight="normal" fill="#1a1a1a" color="#1a1a1a" textLength="9.54" lengthAdjust="spacingAndGlyphs" >15</text>
<line x1="309.4" y1="330" x2="312.6" y2="330" stroke="#000" stroke-width="1.1" />
<text x="306.1" y="333.2" font-size="10" text-anchor="end" font-weight="normal" fill="#1a1a1a" color="#1a1a1a" textLength="9.54" lengthAdjust="spacingAndGlyphs" >10</text>
<line x1="312" y1="330" x2="506.2" y2="330" stroke="#000" stroke-width="1.1" />
<line x1="336.9" y1="330" x2="336.9" y2="333" stroke="#000" stroke-width="1.1" />
<text x="336.9" y="344" font-size="8.2" text-anchor="middle" font-weight="normal" fill="#1a1a1a" color="#1a1a1a" textLength="29.5" lengthAdjust="spacingAndGlyphs" >BCL2A1</text>
<line x1="372.7" y1="330" x2="372.7" y2="333" stroke="#000" stroke-width="1.1" />
<text x="372.7" y="344" font-size="8.2" text-anchor="middle" font-weight="normal" fill="#1a1a1a" color="#1a1a1a" textLength="22" lengthAdjust="spacingAndGlyphs" >MCL1</text>
<line x1="408.8" y1="330" x2="408.8" y2="333" stroke="#000" stroke-width="1.1" />
<text x="408.8" y="344" font-size="8.2" text-anchor="middle" font-weight="normal" fill="#1a1a1a" color="#1a1a1a" textLength="20.4" lengthAdjust="spacingAndGlyphs" >BCL2</text>
<line x1="445.3" y1="330" x2="445.3" y2="333" stroke="#000" stroke-width="1.1" />
<text x="445.3" y="344" font-size="8.2" text-anchor="middle" font-weight="normal" fill="#1a1a1a" color="#1a1a1a" textLength="29.2" lengthAdjust="spacingAndGlyphs" >BCL2L1</text>
<line x1="481.6" y1="330" x2="481.6" y2="333" stroke="#000" stroke-width="1.1" />
<text x="481.6" y="344" font-size="8.2" text-anchor="middle" font-weight="normal" fill="#1a1a1a" color="#1a1a1a" textLength="29.6" lengthAdjust="spacingAndGlyphs" >BCL2L2</text>
<text transform="translate(290.8,264) rotate(-90)" font-size="10" text-anchor="middle" fill="#1a1a1a" color="#1a1a1a" textLength="32.8" lengthAdjust="spacingAndGlyphs">Log2 &#916;cT</text>
<path d="M341.4 246.4 C341.58 247 341.98 248.4 342.5 250 C343.02 251.6 343.88 253.4 344.5 256 C345.12 258.6 346.08 262.93 346.2 265.6 C346.32 268.27 346.02 269.93 345.2 272 C344.38 274.07 342.32 276.22 341.3 278 C340.28 279.78 339.23 281.2 339.1 282.7 C338.97 284.2 339.5 285.28 340.5 287 C341.5 288.72 343.68 290.63 345.1 293 C346.52 295.37 348.6 298.87 349 301.2 C349.4 303.53 348.35 305.2 347.5 307 C346.65 308.8 345.02 310.48 343.9 312 C342.78 313.52 341.32 315.42 340.8 316.1 L333 316.1 C332.48 315.42 331.02 313.52 329.9 312 C328.78 310.48 327.15 308.8 326.3 307 C325.45 305.2 324.4 303.53 324.8 301.2 C325.2 298.87 327.28 295.37 328.7 293 C330.12 290.63 332.3 288.72 333.3 287 C334.3 285.28 334.83 284.2 334.7 282.7 C334.57 281.2 333.52 279.78 332.5 278 C331.48 276.22 329.42 274.07 328.6 272 C327.78 269.93 327.48 268.27 327.6 265.6 C327.72 262.93 328.68 258.6 329.3 256 C329.92 253.4 330.78 251.6 331.3 250 C331.82 248.4 332.22 247 332.4 246.4 Z" fill="#c9c9cd" stroke="#222" stroke-width="1.0" stroke-linejoin="round"/>
<circle cx="336.5" cy="246.8" r="1.65" fill="#b0041f"/>
<circle cx="336.5" cy="251.7" r="1.65" fill="#b0041f"/>
<circle cx="333.4" cy="258.5" r="1.65" fill="#b0041f"/>
<circle cx="339.6" cy="258.5" r="1.65" fill="#b0041f"/>
<circle cx="333.4" cy="263.9" r="1.65" fill="#b0041f"/>
<circle cx="339.6" cy="265.9" r="1.65" fill="#b0041f"/>
<circle cx="333.4" cy="268.2" r="1.65" fill="#b0041f"/>
<circle cx="333.4" cy="274.2" r="1.65" fill="#b0041f"/>
<circle cx="339.6" cy="272.4" r="1.65" fill="#b0041f"/>
<circle cx="333.4" cy="295.9" r="1.65" fill="#b0041f"/>
<circle cx="339.6" cy="295.2" r="1.65" fill="#b0041f"/>
<circle cx="333.4" cy="300.5" r="1.65" fill="#b0041f"/>
<circle cx="339.6" cy="299.8" r="1.65" fill="#b0041f"/>
<circle cx="330.5" cy="303.3" r="1.65" fill="#b0041f"/>
<circle cx="330.5" cy="306.6" r="1.65" fill="#b0041f"/>
<circle cx="336.5" cy="305.5" r="1.65" fill="#b0041f"/>
<circle cx="342.9" cy="305.5" r="1.65" fill="#b0041f"/>
<circle cx="336.5" cy="316.1" r="1.65" fill="#b0041f"/>
<path d="M375.2 293.4 C375.5 293.83 376.23 295.22 377 296 C377.77 296.78 378.7 297.23 379.8 298.1 C380.9 298.97 382.97 299.88 383.6 301.2 C384.23 302.52 384.33 304.88 383.6 306 C382.87 307.12 380.92 307.25 379.2 307.9 C377.48 308.55 374.28 309.57 373.3 309.9 L372.3 309.9 C371.32 309.57 368.12 308.55 366.4 307.9 C364.68 307.25 362.73 307.12 362 306 C361.27 304.88 361.37 302.52 362 301.2 C362.63 299.88 364.7 298.97 365.8 298.1 C366.9 297.23 367.83 296.78 368.6 296 C369.37 295.22 370.1 293.83 370.4 293.4 Z" fill="#c9c9cd" stroke="#222" stroke-width="1.0" stroke-linejoin="round"/>
<line x1="372.8" y1="309.9" x2="372.8" y2="320.3" stroke="#222" stroke-width="1.0" />
<circle cx="369.3" cy="294.6" r="1.6" fill="#17377c"/>
<circle cx="376.2" cy="293.4" r="1.6" fill="#17377c"/>
<circle cx="379.9" cy="298.1" r="1.6" fill="#17377c"/>
<circle cx="383.6" cy="298.5" r="1.6" fill="#17377c"/>
<circle cx="362.3" cy="300.3" r="1.6" fill="#17377c"/>
<circle cx="365.8" cy="301.8" r="1.6" fill="#17377c"/>
<circle cx="369.1" cy="300.8" r="1.6" fill="#17377c"/>
<circle cx="372.8" cy="300.6" r="1.6" fill="#17377c"/>
<circle cx="380.2" cy="301.8" r="1.6" fill="#17377c"/>
<circle cx="376.2" cy="303" r="1.6" fill="#17377c"/>
<circle cx="365.8" cy="304.5" r="1.6" fill="#17377c"/>
<circle cx="362.3" cy="306.4" r="1.6" fill="#17377c"/>
<circle cx="369.1" cy="306.4" r="1.6" fill="#17377c"/>
<circle cx="372.8" cy="305.7" r="1.6" fill="#17377c"/>
<circle cx="376.2" cy="307.5" r="1.6" fill="#17377c"/>
<circle cx="380.2" cy="306.4" r="1.6" fill="#17377c"/>
<circle cx="383.6" cy="306.9" r="1.6" fill="#17377c"/>
<circle cx="372.8" cy="320.3" r="1.6" fill="#17377c"/>
<path d="M409.5 214.8 C409.52 219.67 409.38 238.55 409.6 244 C409.82 249.45 410.55 246.17 410.8 247.5 C411.05 248.83 411.3 250.58 411.1 252 C410.9 253.42 409.83 254 409.6 256 C409.37 258 409.48 262.08 409.7 264 C409.92 265.92 410.73 266.33 410.9 267.5 C411.07 268.67 410.83 269.92 410.7 271 C410.57 272.08 410.1 273.08 410.1 274 C410.1 274.92 410.27 275.5 410.7 276.5 C411.13 277.5 411.7 278.75 412.7 280 C413.7 281.25 415.3 282.63 416.7 284 C418.1 285.37 420.87 287.03 421.1 288.2 C421.33 289.37 419.1 290.03 418.1 291 C417.1 291.97 415.8 292.97 415.1 294 C414.4 295.03 414.13 295.37 413.9 297.2 C413.67 299.03 413.8 302.7 413.7 305 C413.6 307.3 413.65 309.53 413.3 311 C412.95 312.47 411.88 313.33 411.6 313.8 L406.6 313.8 C406.32 313.33 405.25 312.47 404.9 311 C404.55 309.53 404.6 307.3 404.5 305 C404.4 302.7 404.53 299.03 404.3 297.2 C404.07 295.37 403.8 295.03 403.1 294 C402.4 292.97 401.1 291.97 400.1 291 C399.1 290.03 396.87 289.37 397.1 288.2 C397.33 287.03 400.1 285.37 401.5 284 C402.9 282.63 404.5 281.25 405.5 280 C406.5 278.75 407.07 277.5 407.5 276.5 C407.93 275.5 408.1 274.92 408.1 274 C408.1 273.08 407.63 272.08 407.5 271 C407.37 269.92 407.13 268.67 407.3 267.5 C407.47 266.33 408.28 265.92 408.5 264 C408.72 262.08 408.83 258 408.6 256 C408.37 254 407.3 253.42 407.1 252 C406.9 250.58 407.15 248.83 407.4 247.5 C407.65 246.17 408.38 249.45 408.6 244 C408.82 238.55 408.68 219.67 408.7 214.8 Z" fill="#c9c9cd" stroke="#222" stroke-width="1.0" stroke-linejoin="round"/>
<circle cx="409.1" cy="216.3" r="1.6" fill="#450d68"/>
<circle cx="409.1" cy="250.3" r="1.6" fill="#450d68"/>
<circle cx="409.1" cy="253.6" r="1.6" fill="#450d68"/>
<circle cx="409.1" cy="267.9" r="1.6" fill="#450d68"/>
<circle cx="409.1" cy="270.2" r="1.6" fill="#450d68"/>
<circle cx="409.1" cy="281.9" r="1.6" fill="#450d68"/>
<circle cx="409.1" cy="285.2" r="1.6" fill="#450d68"/>
<circle cx="409.1" cy="289" r="1.6" fill="#450d68"/>
<circle cx="403.8" cy="287" r="1.6" fill="#450d68"/>
<circle cx="399" cy="288.5" r="1.6" fill="#450d68"/>
<circle cx="403.8" cy="291.2" r="1.6" fill="#450d68"/>
<circle cx="403.8" cy="295" r="1.6" fill="#450d68"/>
<circle cx="414.4" cy="289" r="1.6" fill="#450d68"/>
<circle cx="414.4" cy="293.5" r="1.6" fill="#450d68"/>
<circle cx="419.8" cy="289" r="1.6" fill="#450d68"/>
<circle cx="405.8" cy="300.2" r="1.6" fill="#450d68"/>
<circle cx="412.3" cy="300.2" r="1.6" fill="#450d68"/>
<circle cx="409.1" cy="305.5" r="1.6" fill="#450d68"/>
<circle cx="409.1" cy="309" r="1.6" fill="#450d68"/>
<circle cx="409.1" cy="313" r="1.6" fill="#450d68"/>
<path d="M446.5 276.2 C447 276.67 448.33 277.87 449.5 279 C450.67 280.13 452.22 281.55 453.5 283 C454.78 284.45 456.58 285.9 457.2 287.7 C457.82 289.5 457.98 292.25 457.2 293.8 C456.42 295.35 453.78 295.97 452.5 297 C451.22 298.03 450.62 299.12 449.5 300 C448.38 300.88 446.42 301.92 445.8 302.3 L444.8 302.3 C444.18 301.92 442.22 300.88 441.1 300 C439.98 299.12 439.38 298.03 438.1 297 C436.82 295.97 434.18 295.35 433.4 293.8 C432.62 292.25 432.78 289.5 433.4 287.7 C434.02 285.9 435.82 284.45 437.1 283 C438.38 281.55 439.93 280.13 441.1 279 C442.27 277.87 443.6 276.67 444.1 276.2 Z" fill="#c9c9cd" stroke="#222" stroke-width="1.0" stroke-linejoin="round"/>
<line x1="445.3" y1="302.3" x2="445.3" y2="313.1" stroke="#222" stroke-width="1.0" />
<circle cx="445.3" cy="276.9" r="1.6" fill="#948ad0"/>
<circle cx="445.3" cy="280.8" r="1.6" fill="#948ad0"/>
<circle cx="439.2" cy="283.1" r="1.6" fill="#948ad0"/>
<circle cx="451.5" cy="280.8" r="1.6" fill="#948ad0"/>
<circle cx="434.5" cy="286.6" r="1.6" fill="#948ad0"/>
<circle cx="440.1" cy="288.2" r="1.6" fill="#948ad0"/>
<circle cx="445.3" cy="287.7" r="1.6" fill="#948ad0"/>
<circle cx="450.4" cy="286.6" r="1.6" fill="#948ad0"/>
<circle cx="456.2" cy="287.7" r="1.6" fill="#948ad0"/>
<circle cx="440.1" cy="291.2" r="1.6" fill="#948ad0"/>
<circle cx="445.3" cy="292.3" r="1.6" fill="#948ad0"/>
<circle cx="450.4" cy="290.8" r="1.6" fill="#948ad0"/>
<circle cx="450.4" cy="292.8" r="1.6" fill="#948ad0"/>
<circle cx="434.5" cy="293.8" r="1.6" fill="#948ad0"/>
<circle cx="456.2" cy="293.8" r="1.6" fill="#948ad0"/>
<circle cx="442.2" cy="300" r="1.6" fill="#948ad0"/>
<circle cx="448.4" cy="300" r="1.6" fill="#948ad0"/>
<circle cx="445.3" cy="313.1" r="1.6" fill="#948ad0"/>
<path d="M482 236.9 C482.2 237.42 483.13 238.85 483.2 240 C483.27 241.15 482.17 242.63 482.4 243.8 C482.63 244.97 483.9 245.72 484.6 247 C485.3 248.28 486.33 250.25 486.6 251.5 C486.87 252.75 486.53 253.47 486.2 254.5 C485.87 255.53 484.2 256.62 484.6 257.7 C485 258.78 487.13 259.72 488.6 261 C490.07 262.28 492.6 263.9 493.4 265.4 C494.2 266.9 493.7 268.4 493.4 270 C493.1 271.6 492.48 273.33 491.6 275 C490.72 276.67 488.68 279.17 488.1 280 L475.1 280 C474.52 279.17 472.48 276.67 471.6 275 C470.72 273.33 470.1 271.6 469.8 270 C469.5 268.4 469 266.9 469.8 265.4 C470.6 263.9 473.13 262.28 474.6 261 C476.07 259.72 478.2 258.78 478.6 257.7 C479 256.62 477.33 255.53 477 254.5 C476.67 253.47 476.33 252.75 476.6 251.5 C476.87 250.25 477.9 248.28 478.6 247 C479.3 245.72 480.57 244.97 480.8 243.8 C481.03 242.63 479.93 241.15 480 240 C480.07 238.85 481 237.42 481.2 236.9 Z" fill="#c9c9cd" stroke="#222" stroke-width="1.0" stroke-linejoin="round"/>
<circle cx="481.6" cy="237.4" r="1.6" fill="#56a6e4"/>
<circle cx="478.5" cy="251.2" r="1.6" fill="#56a6e4"/>
<circle cx="485" cy="251.2" r="1.6" fill="#56a6e4"/>
<circle cx="481.6" cy="256.2" r="1.6" fill="#56a6e4"/>
<circle cx="475.5" cy="263.1" r="1.6" fill="#56a6e4"/>
<circle cx="487.8" cy="263.1" r="1.6" fill="#56a6e4"/>
<circle cx="475.5" cy="266.2" r="1.6" fill="#56a6e4"/>
<circle cx="481.6" cy="265.1" r="1.6" fill="#56a6e4"/>
<circle cx="487.8" cy="266.2" r="1.6" fill="#56a6e4"/>
<circle cx="475.5" cy="271.2" r="1.6" fill="#56a6e4"/>
<circle cx="481.6" cy="269.2" r="1.6" fill="#56a6e4"/>
<circle cx="487.8" cy="270.3" r="1.6" fill="#56a6e4"/>
<circle cx="481.6" cy="273.1" r="1.6" fill="#56a6e4"/>
<circle cx="475.5" cy="275.4" r="1.6" fill="#56a6e4"/>
<circle cx="487.8" cy="274.6" r="1.6" fill="#56a6e4"/>
<circle cx="475.5" cy="280" r="1.6" fill="#56a6e4"/>
<circle cx="481.6" cy="278.9" r="1.6" fill="#56a6e4"/>
<circle cx="487.8" cy="280" r="1.6" fill="#56a6e4"/>
<text x="9.8" y="381.3" font-size="12.9" font-weight="bold" fill="#000" style="stroke:#000;stroke-width:0.35px">E</text>
<line x1="52.3" y1="388.2" x2="52.3" y2="519.8" stroke="#000" stroke-width="1.1" />
<line x1="49.1" y1="390.8" x2="52.3" y2="390.8" stroke="#000" stroke-width="1.1" />
<text x="46.3" y="394" font-size="10" text-anchor="end" font-weight="normal" fill="#1a1a1a" color="#1a1a1a" textLength="9.43" lengthAdjust="spacingAndGlyphs" >10</text>
<line x1="49.1" y1="427.3" x2="52.3" y2="427.3" stroke="#000" stroke-width="1.1" />
<text x="46.3" y="430.5" font-size="10" text-anchor="end" font-weight="normal" fill="#1a1a1a" color="#1a1a1a" textLength="4.66" lengthAdjust="spacingAndGlyphs" >1</text>
<line x1="49.1" y1="463.8" x2="52.3" y2="463.8" stroke="#000" stroke-width="1.1" />
<text x="46.3" y="467" font-size="10" text-anchor="end" font-weight="normal" fill="#1a1a1a" color="#1a1a1a" textLength="11.66" lengthAdjust="spacingAndGlyphs" >0.1</text>
<line x1="49.1" y1="500.3" x2="52.3" y2="500.3" stroke="#000" stroke-width="1.1" />
<text x="46.3" y="503.5" font-size="10" text-anchor="end" font-weight="normal" fill="#1a1a1a" color="#1a1a1a" textLength="16.43" lengthAdjust="spacingAndGlyphs" >0.01</text>
<line x1="52" y1="519.3" x2="246.4" y2="519.3" stroke="#000" stroke-width="1.1" />
<line x1="104.7" y1="519.3" x2="104.7" y2="522.3" stroke="#000" stroke-width="1.1" />
<text x="104.7" y="533.7" font-size="8.2" text-anchor="middle" font-weight="normal" fill="#1a1a1a" color="#1a1a1a" textLength="35.4" lengthAdjust="spacingAndGlyphs" >AZD5991</text>
<line x1="193.8" y1="519.3" x2="193.8" y2="522.3" stroke="#000" stroke-width="1.1" />
<text x="193.8" y="533.7" font-size="8.2" text-anchor="middle" font-weight="normal" fill="#1a1a1a" color="#1a1a1a" textLength="42.9" lengthAdjust="spacingAndGlyphs" >Venetoclax</text>
<text transform="translate(23.4,453.2) rotate(-90)" font-size="10" text-anchor="middle" fill="#1a1a1a" color="#1a1a1a" textLength="69" lengthAdjust="spacingAndGlyphs">Caspase EC<tspan font-size="7" dy="2">50</tspan><tspan dy="-2"> (&#181;M)</tspan></text>
<path d="M81.8 403 V395.2 H126.5 V403" fill="none" stroke="#222" stroke-width="1"/>
<path d="M171.6 403 V395.2 H215.8 V403" fill="none" stroke="#222" stroke-width="1"/>
<text x="104.3" y="394.5" font-size="7" text-anchor="middle" font-weight="normal" fill="#222" color="#222" >**</text>
<text x="194.1" y="394" font-size="7" text-anchor="middle" font-weight="normal" fill="#222" color="#222" >*</text>
<circle cx="72.8" cy="410.3" r="1.55" fill="#17377c"/>
<circle cx="79.2" cy="410.3" r="1.55" fill="#17377c"/>
<circle cx="85.3" cy="410.3" r="1.55" fill="#17377c"/>
<circle cx="91.3" cy="410.3" r="1.55" fill="#17377c"/>
<circle cx="82.2" cy="416.3" r="1.55" fill="#17377c"/>
<circle cx="82.2" cy="423.3" r="1.55" fill="#17377c"/>
<circle cx="78.8" cy="435.4" r="1.55" fill="#17377c"/>
<circle cx="85.4" cy="434.8" r="1.55" fill="#17377c"/>
<circle cx="85.4" cy="438.3" r="1.55" fill="#17377c"/>
<circle cx="78.8" cy="441.2" r="1.55" fill="#17377c"/>
<circle cx="82.2" cy="445.4" r="1.55" fill="#17377c"/>
<circle cx="88.8" cy="444.3" r="1.55" fill="#17377c"/>
<circle cx="75.5" cy="447.3" r="1.55" fill="#17377c"/>
<circle cx="88.8" cy="448.2" r="1.55" fill="#17377c"/>
<circle cx="82.2" cy="450.1" r="1.55" fill="#17377c"/>
<circle cx="68.8" cy="454.8" r="1.55" fill="#17377c"/>
<circle cx="75.5" cy="453.3" r="1.55" fill="#17377c"/>
<circle cx="82.2" cy="453.8" r="1.55" fill="#17377c"/>
<circle cx="88.8" cy="453.8" r="1.55" fill="#17377c"/>
<circle cx="95.5" cy="452.2" r="1.55" fill="#17377c"/>
<circle cx="95.5" cy="455.7" r="1.55" fill="#17377c"/>
<circle cx="78.8" cy="458.7" r="1.55" fill="#17377c"/>
<circle cx="85.4" cy="458.7" r="1.55" fill="#17377c"/>
<circle cx="82.2" cy="465.6" r="1.55" fill="#17377c"/>
<circle cx="74.1" cy="469.6" r="1.55" fill="#17377c"/>
<circle cx="84.6" cy="469.8" r="1.55" fill="#17377c"/>
<circle cx="95.5" cy="469.6" r="1.55" fill="#17377c"/>
<circle cx="68.5" cy="472.2" r="1.55" fill="#17377c"/>
<circle cx="79.4" cy="472.2" r="1.55" fill="#17377c"/>
<circle cx="89.9" cy="472.2" r="1.55" fill="#17377c"/>
<circle cx="82.2" cy="478.5" r="1.55" fill="#17377c"/>
<circle cx="78.8" cy="483.1" r="1.55" fill="#17377c"/>
<circle cx="85.4" cy="483.1" r="1.55" fill="#17377c"/>
<circle cx="82.2" cy="489.6" r="1.55" fill="#17377c"/>
<circle cx="82.2" cy="500.6" r="1.55" fill="#17377c"/>
<circle cx="113.5" cy="410" r="1.55" fill="#b0041f"/>
<circle cx="118.7" cy="410" r="1.55" fill="#b0041f"/>
<circle cx="123.9" cy="410" r="1.55" fill="#b0041f"/>
<circle cx="129.4" cy="410" r="1.55" fill="#b0041f"/>
<circle cx="134.6" cy="410" r="1.55" fill="#b0041f"/>
<circle cx="140.2" cy="410" r="1.55" fill="#b0041f"/>
<circle cx="123.9" cy="416.3" r="1.55" fill="#b0041f"/>
<circle cx="123.9" cy="420.8" r="1.55" fill="#b0041f"/>
<circle cx="129.9" cy="419.1" r="1.55" fill="#b0041f"/>
<circle cx="123.9" cy="427.8" r="1.55" fill="#b0041f"/>
<circle cx="129.9" cy="426.7" r="1.55" fill="#b0041f"/>
<circle cx="126.5" cy="431.4" r="1.55" fill="#b0041f"/>
<circle cx="126.5" cy="445.4" r="1.55" fill="#b0041f"/>
<circle cx="126.5" cy="448" r="1.55" fill="#b0041f"/>
<circle cx="126.5" cy="458.6" r="1.55" fill="#b0041f"/>
<circle cx="126.5" cy="467.5" r="1.55" fill="#b0041f"/>
<circle cx="126.5" cy="475.2" r="1.55" fill="#b0041f"/>
<line x1="67.1" y1="452.4" x2="95.5" y2="452.4" stroke="#111" stroke-width="1.3" />
<line x1="112.1" y1="429.2" x2="141.5" y2="429.2" stroke="#111" stroke-width="1.3" />
<line x1="158.3" y1="410.1" x2="184.6" y2="410.1" stroke="#17377c" stroke-width="3.2" stroke-linecap="round"/>
<circle cx="158.3" cy="410.1" r="1.6" fill="#17377c"/>
<circle cx="160.69" cy="410.1" r="1.6" fill="#17377c"/>
<circle cx="163.08" cy="410.1" r="1.6" fill="#17377c"/>
<circle cx="165.47" cy="410.1" r="1.6" fill="#17377c"/>
<circle cx="167.86" cy="410.1" r="1.6" fill="#17377c"/>
<circle cx="170.25" cy="410.1" r="1.6" fill="#17377c"/>
<circle cx="172.64" cy="410.1" r="1.6" fill="#17377c"/>
<circle cx="175.03" cy="410.1" r="1.6" fill="#17377c"/>
<circle cx="177.42" cy="410.1" r="1.6" fill="#17377c"/>
<circle cx="179.81" cy="410.1" r="1.6" fill="#17377c"/>
<circle cx="182.2" cy="410.1" r="1.6" fill="#17377c"/>
<circle cx="184.59" cy="410.1" r="1.6" fill="#17377c"/>
<line x1="202.8" y1="410.1" x2="229.1" y2="410.1" stroke="#b0041f" stroke-width="3.0" stroke-linecap="round"/>
<circle cx="202.8" cy="410.1" r="1.55" fill="#b0041f"/>
<circle cx="205.19" cy="410.1" r="1.55" fill="#b0041f"/>
<circle cx="207.58" cy="410.1" r="1.55" fill="#b0041f"/>
<circle cx="209.97" cy="410.1" r="1.55" fill="#b0041f"/>
<circle cx="212.36" cy="410.1" r="1.55" fill="#b0041f"/>
<circle cx="214.75" cy="410.1" r="1.55" fill="#b0041f"/>
<circle cx="217.14" cy="410.1" r="1.55" fill="#b0041f"/>
<circle cx="219.53" cy="410.1" r="1.55" fill="#b0041f"/>
<circle cx="221.92" cy="410.1" r="1.55" fill="#b0041f"/>
<circle cx="224.31" cy="410.1" r="1.55" fill="#b0041f"/>
<circle cx="226.7" cy="410.1" r="1.55" fill="#b0041f"/>
<circle cx="229.09" cy="410.1" r="1.55" fill="#b0041f"/>
<circle cx="171.3" cy="439.4" r="1.55" fill="#17377c"/>
<circle cx="171.3" cy="445.8" r="1.55" fill="#17377c"/>
<circle cx="168.2" cy="454.8" r="1.55" fill="#17377c"/>
<circle cx="174.4" cy="452" r="1.55" fill="#17377c"/>
<circle cx="168.2" cy="466.6" r="1.55" fill="#17377c"/>
<circle cx="174.4" cy="465.4" r="1.55" fill="#17377c"/>
<circle cx="168.2" cy="472" r="1.55" fill="#17377c"/>
<circle cx="174.4" cy="469.7" r="1.55" fill="#17377c"/>
<circle cx="174.4" cy="480.4" r="1.55" fill="#17377c"/>
<circle cx="168.2" cy="483.6" r="1.55" fill="#17377c"/>
<circle cx="168.2" cy="489.3" r="1.55" fill="#17377c"/>
<circle cx="174.4" cy="489.3" r="1.55" fill="#17377c"/>
<circle cx="171.3" cy="493.1" r="1.55" fill="#17377c"/>
<circle cx="168.2" cy="498.6" r="1.55" fill="#17377c"/>
<circle cx="174.4" cy="497.4" r="1.55" fill="#17377c"/>
<circle cx="168.2" cy="455.5" r="1.55" fill="#17377c"/>
<circle cx="215.8" cy="420.3" r="1.55" fill="#b0041f"/>
<circle cx="215.8" cy="439.4" r="1.55" fill="#b0041f"/>
<circle cx="215.8" cy="475.8" r="1.55" fill="#b0041f"/>
<line x1="156.6" y1="436.8" x2="186" y2="436.8" stroke="#111" stroke-width="1.3" />
<line x1="201.1" y1="416.2" x2="230.8" y2="416.2" stroke="#111" stroke-width="1.3" />
<text x="272.6" y="381.3" font-size="12.9" font-weight="bold" fill="#000" style="stroke:#000;stroke-width:0.35px">F</text>
<line x1="312.3" y1="388.2" x2="312.3" y2="520" stroke="#000" stroke-width="1.1" />
<line x1="309.1" y1="390.8" x2="312.3" y2="390.8" stroke="#000" stroke-width="1.1" />
<text x="306.1" y="394" font-size="10" text-anchor="end" font-weight="normal" fill="#1a1a1a" color="#1a1a1a" textLength="14.2" lengthAdjust="spacingAndGlyphs" >125</text>
<line x1="309.1" y1="414.6" x2="312.3" y2="414.6" stroke="#000" stroke-width="1.1" />
<text x="306.1" y="417.8" font-size="10" text-anchor="end" font-weight="normal" fill="#1a1a1a" color="#1a1a1a" textLength="14.2" lengthAdjust="spacingAndGlyphs" >100</text>
<line x1="309.1" y1="438.5" x2="312.3" y2="438.5" stroke="#000" stroke-width="1.1" />
<text x="306.1" y="441.7" font-size="10" text-anchor="end" font-weight="normal" fill="#1a1a1a" color="#1a1a1a" textLength="9.43" lengthAdjust="spacingAndGlyphs" >75</text>
<line x1="309.1" y1="462.3" x2="312.3" y2="462.3" stroke="#000" stroke-width="1.1" />
<text x="306.1" y="465.5" font-size="10" text-anchor="end" font-weight="normal" fill="#1a1a1a" color="#1a1a1a" textLength="9.43" lengthAdjust="spacingAndGlyphs" >50</text>
<line x1="309.1" y1="486.2" x2="312.3" y2="486.2" stroke="#000" stroke-width="1.1" />
<text x="306.1" y="489.4" font-size="10" text-anchor="end" font-weight="normal" fill="#1a1a1a" color="#1a1a1a" textLength="9.43" lengthAdjust="spacingAndGlyphs" >25</text>
<line x1="309.1" y1="510" x2="312.3" y2="510" stroke="#000" stroke-width="1.1" />
<text x="306.1" y="513.2" font-size="10" text-anchor="end" font-weight="normal" fill="#1a1a1a" color="#1a1a1a" textLength="4.66" lengthAdjust="spacingAndGlyphs" >0</text>
<line x1="312" y1="519.5" x2="506.5" y2="519.5" stroke="#000" stroke-width="1.1" />
<line x1="312.3" y1="519.5" x2="312.3" y2="522.5" stroke="#000" stroke-width="1.1" />
<text x="312.3" y="533.7" font-size="9.6" text-anchor="middle" font-weight="normal" fill="#1a1a1a" color="#1a1a1a" textLength="20.5" lengthAdjust="spacingAndGlyphs" >0.001</text>
<line x1="360.7" y1="519.5" x2="360.7" y2="522.5" stroke="#000" stroke-width="1.1" />
<text x="360.7" y="533.7" font-size="9.6" text-anchor="middle" font-weight="normal" fill="#1a1a1a" color="#1a1a1a" textLength="16" lengthAdjust="spacingAndGlyphs" >0.01</text>
<line x1="409.1" y1="519.5" x2="409.1" y2="522.5" stroke="#000" stroke-width="1.1" />
<text x="409.1" y="533.7" font-size="9.6" text-anchor="middle" font-weight="normal" fill="#1a1a1a" color="#1a1a1a" textLength="11.6" lengthAdjust="spacingAndGlyphs" >0.1</text>
<line x1="457.5" y1="519.5" x2="457.5" y2="522.5" stroke="#000" stroke-width="1.1" />
<text x="457.5" y="533.7" font-size="9.6" text-anchor="middle" font-weight="normal" fill="#1a1a1a" color="#1a1a1a" textLength="4.7" lengthAdjust="spacingAndGlyphs" >1</text>
<line x1="505.9" y1="519.5" x2="505.9" y2="522.5" stroke="#000" stroke-width="1.1" />
<text x="505.9" y="533.7" font-size="9.6" text-anchor="middle" font-weight="normal" fill="#1a1a1a" color="#1a1a1a" textLength="9.4" lengthAdjust="spacingAndGlyphs" >10</text>
<text x="411.2" y="548.4" font-size="9.6" text-anchor="middle" fill="#1a1a1a" color="#1a1a1a" textLength="106" lengthAdjust="spacingAndGlyphs">AZD5991 concentration (&#181;M)</text>
<text transform="translate(285.9,453.6) rotate(-90)" font-size="10" text-anchor="middle" fill="#1a1a1a" color="#1a1a1a" textLength="36.8" lengthAdjust="spacingAndGlyphs">% viability</text>
<line x1="313.5" y1="462.4" x2="519" y2="462.4" stroke="#000" stroke-width="1.15" stroke-dasharray="1.2 1.3"/>
<path d="M318.92 404.12 L320.94 404.12 L322.96 404.12 L324.98 404.12 L327 404.12 L329.02 404.12 L331.04 404.13 L333.06 404.13 L335.08 404.13 L337.11 404.13 L339.13 404.14 L341.15 404.14 L343.17 404.14 L345.19 404.15 L347.21 404.15 L349.23 404.15 L351.25 404.16 L353.27 404.17 L355.29 404.17 L357.32 404.18 L359.34 404.19 L361.36 404.2 L363.38 404.21 L365.4 404.22 L367.42 404.23 L369.44 404.24 L371.46 404.26 L373.48 404.27 L375.5 404.29 L377.52 404.31 L379.55 404.33 L381.57 404.36 L383.59 404.38 L385.61 404.41 L387.63 404.44 L389.65 404.48 L391.67 404.52 L393.69 404.57 L395.71 404.61 L397.73 404.67 L399.75 404.73 L401.78 404.8 L403.8 404.87 L405.82 404.95 L407.84 405.04 L409.86 405.14 L411.88 405.25 L413.9 405.37 L415.92 405.51 L417.94 405.66 L419.96 405.82 L421.99 406 L424.01 406.2 L426.03 406.43 L428.05 406.67 L430.07 406.94 L432.09 407.23 L434.11 407.56 L436.13 407.92 L438.15 408.31 L440.17 408.75 L442.19 409.22 L444.22 409.74 L446.24 410.32 L448.26 410.94 L450.28 411.62 L452.3 412.37 L454.32 413.19 L456.34 414.07 L458.36 415.03 L460.38 416.08 L462.4 417.21 L464.43 418.43 L466.45 419.74 L468.47 421.16 L470.49 422.67 L472.51 424.29 L474.53 426.01 L476.55 427.84 L478.57 429.78 L480.59 431.82" fill="none" stroke="#b0123c" stroke-width="1.2"/>
<path d="M318.92 416.51 L320.94 416.51 L322.96 416.51 L324.98 416.51 L327 416.51 L329.02 416.51 L331.04 416.51 L333.06 416.51 L335.08 416.51 L337.11 416.51 L339.13 416.51 L341.15 416.51 L343.17 416.51 L345.19 416.51 L347.21 416.51 L349.23 416.51 L351.25 416.51 L353.27 416.51 L355.29 416.51 L357.32 416.51 L359.34 416.51 L361.36 416.52 L363.38 416.52 L365.4 416.52 L367.42 416.52 L369.44 416.52 L371.46 416.52 L373.48 416.52 L375.5 416.52 L377.52 416.53 L379.55 416.53 L381.57 416.53 L383.59 416.54 L385.61 416.54 L387.63 416.54 L389.65 416.55 L391.67 416.55 L393.69 416.56 L395.71 416.56 L397.73 416.57 L399.75 416.58 L401.78 416.59 L403.8 416.6 L405.82 416.61 L407.84 416.63 L409.86 416.64 L411.88 416.66 L413.9 416.68 L415.92 416.7 L417.94 416.73 L419.96 416.76 L421.99 416.79 L424.01 416.83 L426.03 416.87 L428.05 416.91 L430.07 416.97 L432.09 417.03 L434.11 417.09 L436.13 417.17 L438.15 417.26 L440.17 417.35 L442.19 417.46 L444.22 417.59 L446.24 417.73 L448.26 417.88 L450.28 418.06 L452.3 418.26 L454.32 418.48 L456.34 418.74 L458.36 419.02 L460.38 419.34 L462.4 419.7 L464.43 420.1 L466.45 420.55 L468.47 421.05 L470.49 421.62 L472.51 422.25 L474.53 422.95 L476.55 423.72 L478.57 424.59 L480.59 425.54" fill="none" stroke="#b0123c" stroke-width="1.2"/>
<path d="M318.92 410.8 L320.94 410.8 L322.96 410.81 L324.98 410.81 L327 410.81 L329.02 410.82 L331.04 410.82 L333.06 410.83 L335.08 410.83 L337.11 410.84 L339.13 410.85 L341.15 410.86 L343.17 410.87 L345.19 410.88 L347.21 410.9 L349.23 410.92 L351.25 410.94 L353.27 410.96 L355.29 410.99 L357.32 411.02 L359.34 411.05 L361.36 411.09 L363.38 411.14 L365.4 411.19 L367.42 411.25 L369.44 411.32 L371.46 411.4 L373.48 411.49 L375.5 411.59 L377.52 411.71 L379.55 411.85 L381.57 412.01 L383.59 412.19 L385.61 412.4 L387.63 412.63 L389.65 412.9 L391.67 413.21 L393.69 413.56 L395.71 413.95 L397.73 414.4 L399.75 414.91 L401.78 415.49 L403.8 416.14 L405.82 416.86 L407.84 417.68 L409.86 418.59 L411.88 419.6 L413.9 420.73 L415.92 421.96 L417.94 423.31 L419.96 424.78 L421.99 426.38 L424.01 428.09 L426.03 429.91 L428.05 431.84 L430.07 433.87 L432.09 435.97 L434.11 438.14 L436.13 440.35 L438.15 442.59 L440.17 444.83 L442.19 447.04 L444.22 449.22 L446.24 451.33 L448.26 453.37 L450.28 455.31 L452.3 457.15 L454.32 458.88 L456.34 460.49 L458.36 461.98 L460.38 463.35 L462.4 464.6 L464.43 465.73 L466.45 466.76 L468.47 467.69 L470.49 468.51 L472.51 469.25 L474.53 469.91 L476.55 470.5 L478.57 471.02 L480.59 471.47" fill="none" stroke="#b0123c" stroke-width="1.2"/>
<path d="M318.92 405.1 L320.94 405.11 L322.96 405.12 L324.98 405.13 L327 405.14 L329.02 405.16 L331.04 405.18 L333.06 405.2 L335.08 405.22 L337.11 405.25 L339.13 405.29 L341.15 405.33 L343.17 405.37 L345.19 405.43 L347.21 405.49 L349.23 405.57 L351.25 405.66 L353.27 405.77 L355.29 405.89 L357.32 406.04 L359.34 406.21 L361.36 406.41 L363.38 406.64 L365.4 406.92 L367.42 407.24 L369.44 407.62 L371.46 408.06 L373.48 408.58 L375.5 409.18 L377.52 409.87 L379.55 410.68 L381.57 411.62 L383.59 412.69 L385.61 413.93 L387.63 415.35 L389.65 416.97 L391.67 418.81 L393.69 420.88 L395.71 423.2 L397.73 425.78 L399.75 428.62 L401.78 431.73 L403.8 435.1 L405.82 438.71 L407.84 442.53 L409.86 446.53 L411.88 450.66 L413.9 454.88 L415.92 459.13 L417.94 463.35 L419.96 467.48 L421.99 471.49 L424.01 475.31 L426.03 478.93 L428.05 482.3 L430.07 485.42 L432.09 488.27 L434.11 490.85 L436.13 493.18 L438.15 495.25 L440.17 497.09 L442.19 498.72 L444.22 500.14 L446.24 501.38 L448.26 502.47 L450.28 503.4 L452.3 504.22 L454.32 504.92 L456.34 505.52 L458.36 506.03 L460.38 506.48 L462.4 506.86 L464.43 507.18 L466.45 507.46 L468.47 507.69 L470.49 507.9 L472.51 508.07 L474.53 508.21 L476.55 508.34 L478.57 508.44 L480.59 508.53" fill="none" stroke="#2c5192" stroke-width="1.2"/>
<path d="M318.92 405.06 L320.94 405.06 L322.96 405.06 L324.98 405.06 L327 405.06 L329.02 405.06 L331.04 405.07 L333.06 405.07 L335.08 405.07 L337.11 405.08 L339.13 405.08 L341.15 405.09 L343.17 405.1 L345.19 405.12 L347.21 405.14 L349.23 405.17 L351.25 405.2 L353.27 405.26 L355.29 405.33 L357.32 405.42 L359.34 405.55 L361.36 405.73 L363.38 405.97 L365.4 406.29 L367.42 406.72 L369.44 407.31 L371.46 408.1 L373.48 409.15 L375.5 410.54 L377.52 412.38 L379.55 414.77 L381.57 417.83 L383.59 421.69 L385.61 426.45 L387.63 432.14 L389.65 438.72 L391.67 446.04 L393.69 453.85 L395.71 461.79 L397.73 469.5 L399.75 476.66 L401.78 483.03 L403.8 488.48 L405.82 493 L407.84 496.65 L409.86 499.53 L411.88 501.77 L413.9 503.48 L415.92 504.78 L417.94 505.75 L419.96 506.48 L421.99 507.03 L424.01 507.43 L426.03 507.73 L428.05 507.95 L430.07 508.11 L432.09 508.23 L434.11 508.32 L436.13 508.39 L438.15 508.44 L440.17 508.47 L442.19 508.5 L444.22 508.52 L446.24 508.53 L448.26 508.54 L450.28 508.55 L452.3 508.55 L454.32 508.56 L456.34 508.56 L458.36 508.56 L460.38 508.56 L462.4 508.57 L464.43 508.57 L466.45 508.57 L468.47 508.57 L470.49 508.57 L472.51 508.57 L474.53 508.57 L476.55 508.57 L478.57 508.57 L480.59 508.57" fill="none" stroke="#2c5192" stroke-width="1.2"/>
<path d="M318.92 409.38 L320.94 409.39 L322.96 409.4 L324.98 409.41 L327 409.43 L329.02 409.46 L331.04 409.5 L333.06 409.56 L335.08 409.63 L337.11 409.73 L339.13 409.86 L341.15 410.05 L343.17 410.3 L345.19 410.63 L347.21 411.08 L349.23 411.69 L351.25 412.51 L353.27 413.59 L355.29 415.03 L357.32 416.92 L359.34 419.37 L361.36 422.49 L363.38 426.4 L365.4 431.18 L367.42 436.84 L369.44 443.32 L371.46 450.44 L373.48 457.93 L375.5 465.44 L377.52 472.63 L379.55 479.22 L381.57 485.01 L383.59 489.92 L385.61 493.95 L387.63 497.19 L389.65 499.73 L391.67 501.69 L393.69 503.19 L395.71 504.32 L397.73 505.17 L399.75 505.81 L401.78 506.28 L403.8 506.63 L405.82 506.89 L407.84 507.08 L409.86 507.22 L411.88 507.33 L413.9 507.4 L415.92 507.46 L417.94 507.5 L419.96 507.53 L421.99 507.55 L424.01 507.57 L426.03 507.58 L428.05 507.59 L430.07 507.6 L432.09 507.6 L434.11 507.61 L436.13 507.61 L438.15 507.61 L440.17 507.61 L442.19 507.61 L444.22 507.61 L446.24 507.61 L448.26 507.61 L450.28 507.61 L452.3 507.61 L454.32 507.61 L456.34 507.61 L458.36 507.61 L460.38 507.61 L462.4 507.61 L464.43 507.61 L466.45 507.61 L468.47 507.61 L470.49 507.61 L472.51 507.61 L474.53 507.61 L476.55 507.61 L478.57 507.61 L480.59 507.61" fill="none" stroke="#2c5192" stroke-width="1.2"/>
<path d="M318.92 401.91 L320.92 405.51 L316.92 405.51 Z" fill="#b0123c"/>
<path d="M342.01 400 L344.01 403.6 L340.01 403.6 Z" fill="#b0123c"/>
<path d="M365.1 399.04 L367.1 402.64 L363.1 402.64 Z" fill="#b0123c"/>
<path d="M388.2 404.77 L390.2 408.37 L386.2 408.37 Z" fill="#b0123c"/>
<path d="M411.29 402.86 L413.29 406.46 L409.29 406.46 Z" fill="#b0123c"/>
<path d="M434.38 410.49 L436.38 414.09 L432.38 414.09 Z" fill="#b0123c"/>
<path d="M457.47 412.78 L459.47 416.38 L455.47 416.38 Z" fill="#b0123c"/>
<path d="M480.57 429.57 L482.57 433.17 L478.57 433.17 Z" fill="#b0123c"/>
<rect x="317.02" y="411.75" width="3.8" height="3.8" fill="#b0123c"/>
<rect x="340.11" y="414.61" width="3.8" height="3.8" fill="#b0123c"/>
<rect x="363.2" y="414.61" width="3.8" height="3.8" fill="#b0123c"/>
<rect x="386.3" y="414.61" width="3.8" height="3.8" fill="#b0123c"/>
<rect x="409.39" y="415.56" width="3.8" height="3.8" fill="#b0123c"/>
<rect x="432.48" y="419.38" width="3.8" height="3.8" fill="#b0123c"/>
<rect x="455.57" y="417.47" width="3.8" height="3.8" fill="#b0123c"/>
<rect x="478.67" y="423.67" width="3.8" height="3.8" fill="#b0123c"/>
<circle cx="318.92" cy="409.83" r="1.7" fill="#b0123c"/>
<circle cx="342.01" cy="409.83" r="1.7" fill="#b0123c"/>
<circle cx="365.1" cy="411.18" r="1.7" fill="#b0123c"/>
<circle cx="388.2" cy="412.7" r="1.7" fill="#b0123c"/>
<circle cx="411.29" cy="419.3" r="1.7" fill="#b0123c"/>
<circle cx="434.38" cy="438.45" r="1.7" fill="#b0123c"/>
<circle cx="457.47" cy="461.35" r="1.7" fill="#b0123c"/>
<circle cx="480.57" cy="472.32" r="1.7" fill="#b0123c"/>
<path d="M318.92 411.08 L320.92 407.48 L316.92 407.48 Z" fill="#2c5192"/>
<path d="M342.01 412.98 L344.01 409.38 L340.01 409.38 Z" fill="#2c5192"/>
<path d="M365.1 410.12 L367.1 406.52 L363.1 406.52 Z" fill="#2c5192"/>
<path d="M388.2 421.57 L390.2 417.97 L386.2 417.97 Z" fill="#2c5192"/>
<path d="M411.29 454.01 L413.29 450.41 L409.29 450.41 Z" fill="#2c5192"/>
<path d="M434.38 495.98 L436.38 492.38 L432.38 492.38 Z" fill="#2c5192"/>
<path d="M457.47 511.06 L459.47 507.46 L455.47 507.46 Z" fill="#2c5192"/>
<path d="M480.57 511.06 L482.57 507.46 L478.57 507.46 Z" fill="#2c5192"/>
<path d="M318.92 404.87 L321.02 406.97 L318.92 409.07 L316.82 406.97 Z" fill="none" stroke="#2c5192" stroke-width="0.9"/>
<path d="M342.01 403 L344.11 405.1 L342.01 407.2 L339.91 405.1 Z" fill="none" stroke="#2c5192" stroke-width="0.9"/>
<path d="M365.1 411.55 L367.2 413.65 L365.1 415.75 L363 413.65 Z" fill="none" stroke="#2c5192" stroke-width="0.9"/>
<path d="M388.2 435.78 L390.3 437.88 L388.2 439.98 L386.1 437.88 Z" fill="none" stroke="#2c5192" stroke-width="0.9"/>
<path d="M411.29 504.85 L413.39 506.95 L411.29 509.05 L409.19 506.95 Z" fill="none" stroke="#2c5192" stroke-width="0.9"/>
<path d="M434.38 506.47 L436.48 508.57 L434.38 510.67 L432.28 508.57 Z" fill="none" stroke="#2c5192" stroke-width="0.9"/>
<path d="M457.47 506.47 L459.57 508.57 L457.47 510.67 L455.37 508.57 Z" fill="none" stroke="#2c5192" stroke-width="0.9"/>
<path d="M480.57 506.47 L482.67 508.57 L480.57 510.67 L478.47 508.57 Z" fill="none" stroke="#2c5192" stroke-width="0.9"/>
<circle cx="318.92" cy="402.2" r="1.8" fill="none" stroke="#2c5192" stroke-width="0.9"/>
<circle cx="342.01" cy="410.14" r="1.8" fill="none" stroke="#2c5192" stroke-width="0.9"/>
<circle cx="365.1" cy="433.68" r="1.8" fill="none" stroke="#2c5192" stroke-width="0.9"/>
<circle cx="388.2" cy="500.84" r="1.8" fill="none" stroke="#2c5192" stroke-width="0.9"/>
<circle cx="411.29" cy="507.14" r="1.8" fill="none" stroke="#2c5192" stroke-width="0.9"/>
<circle cx="434.38" cy="507.62" r="1.8" fill="none" stroke="#2c5192" stroke-width="0.9"/>
<circle cx="457.47" cy="507.62" r="1.8" fill="none" stroke="#2c5192" stroke-width="0.9"/>
<circle cx="480.57" cy="506.57" r="1.8" fill="none" stroke="#2c5192" stroke-width="0.9"/>
<line x1="318.9" y1="398.8" x2="318.9" y2="403.5" stroke="#2c5192" stroke-width="0.8" />
<line x1="317.3" y1="398.8" x2="320.5" y2="398.8" stroke="#2c5192" stroke-width="0.8" />
<line x1="317.3" y1="403.5" x2="320.5" y2="403.5" stroke="#2c5192" stroke-width="0.8" />
<line x1="318.9" y1="414" x2="318.9" y2="418.5" stroke="#b0123c" stroke-width="0.8" />
<line x1="317.3" y1="414" x2="320.5" y2="414" stroke="#b0123c" stroke-width="0.8" />
<line x1="317.3" y1="418.5" x2="320.5" y2="418.5" stroke="#b0123c" stroke-width="0.8" />
<line x1="365.1" y1="398.5" x2="365.1" y2="404" stroke="#b0123c" stroke-width="0.8" />
<line x1="363.5" y1="398.5" x2="366.7" y2="398.5" stroke="#b0123c" stroke-width="0.8" />
<line x1="363.5" y1="404" x2="366.7" y2="404" stroke="#b0123c" stroke-width="0.8" />
<line x1="457.5" y1="412" x2="457.5" y2="423.3" stroke="#b0123c" stroke-width="0.8" />
<line x1="455.9" y1="412" x2="459.1" y2="412" stroke="#b0123c" stroke-width="0.8" />
<line x1="455.9" y1="423.3" x2="459.1" y2="423.3" stroke="#b0123c" stroke-width="0.8" />
<line x1="411.5" y1="448.7" x2="411.5" y2="455.4" stroke="#2c5192" stroke-width="0.8" />
<line x1="409.9" y1="448.7" x2="413.1" y2="448.7" stroke="#2c5192" stroke-width="0.8" />
<line x1="409.9" y1="455.4" x2="413.1" y2="455.4" stroke="#2c5192" stroke-width="0.8" />
<line x1="480.6" y1="429" x2="480.6" y2="433.5" stroke="#b0123c" stroke-width="0.8" />
<line x1="479" y1="429" x2="482.2" y2="429" stroke="#b0123c" stroke-width="0.8" />
<line x1="479" y1="433.5" x2="482.2" y2="433.5" stroke="#b0123c" stroke-width="0.8" />
<line x1="319" y1="471.2" x2="325.6" y2="471.2" stroke="#b0123c" stroke-width="1" />
<g transform="translate(322.3,471.2) scale(0.75) translate(-322.3,-471.2)">
<circle cx="322.3" cy="471.2" r="1.7" fill="#b0123c"/>
</g>
<text x="329" y="473" font-size="5" fill="#444" style="stroke:none">OCILY3</text>
<line x1="319" y1="479.4" x2="325.6" y2="479.4" stroke="#b0123c" stroke-width="1" />
<g transform="translate(322.3,479.4) scale(0.75) translate(-322.3,-479.4)">
<rect x="320.4" y="477.5" width="3.8" height="3.8" fill="#b0123c"/>
</g>
<text x="329" y="481.2" font-size="5" fill="#444" style="stroke:none">SUDHL1</text>
<line x1="319" y1="487.7" x2="325.6" y2="487.7" stroke="#b0123c" stroke-width="1" />
<g transform="translate(322.3,487.7) scale(0.75) translate(-322.3,-487.7)">
<path d="M322.3 485.5 L324.3 489.1 L320.3 489.1 Z" fill="#b0123c"/>
</g>
<text x="329" y="489.5" font-size="5" fill="#444" style="stroke:none">KMH2</text>
<line x1="319" y1="496" x2="325.6" y2="496" stroke="#2c5192" stroke-width="1" />
<g transform="translate(322.3,496) scale(0.75) translate(-322.3,-496)">
<path d="M322.3 498.2 L324.3 494.6 L320.3 494.6 Z" fill="#2c5192"/>
</g>
<text x="329" y="497.8" font-size="5" fill="#444" style="stroke:none">KARPAS299</text>
<line x1="319" y1="504.2" x2="325.6" y2="504.2" stroke="#2c5192" stroke-width="1" />
<g transform="translate(322.3,504.2) scale(0.75) translate(-322.3,-504.2)">
<path d="M322.3 502.1 L324.4 504.2 L322.3 506.3 L320.2 504.2 Z" fill="none" stroke="#2c5192" stroke-width="0.9"/>
</g>
<text x="329" y="506" font-size="5" fill="#444" style="stroke:none">RAMOS</text>
<line x1="319" y1="512.5" x2="325.6" y2="512.5" stroke="#2c5192" stroke-width="1" />
<g transform="translate(322.3,512.5) scale(0.75) translate(-322.3,-512.5)">
<circle cx="322.3" cy="512.5" r="1.8" fill="none" stroke="#2c5192" stroke-width="0.9"/>
</g>
<text x="329" y="514.3" font-size="5" fill="#444" style="stroke:none">HLY1</text>
<text x="9.2" y="570.9" font-size="12.9" font-weight="bold" fill="#000" style="stroke:#000;stroke-width:0.35px">G</text>
<line x1="52.3" y1="577.6" x2="52.3" y2="710" stroke="#000" stroke-width="1.1" />
<line x1="49.1" y1="579.9" x2="52.3" y2="579.9" stroke="#000" stroke-width="1.1" />
<text x="46.3" y="583.1" font-size="10" text-anchor="end" font-weight="normal" fill="#1a1a1a" color="#1a1a1a" textLength="4.66" lengthAdjust="spacingAndGlyphs" >1</text>
<line x1="49.1" y1="623.2" x2="52.3" y2="623.2" stroke="#000" stroke-width="1.1" />
<text x="46.3" y="626.4" font-size="10" text-anchor="end" font-weight="normal" fill="#1a1a1a" color="#1a1a1a" textLength="11.66" lengthAdjust="spacingAndGlyphs" >0.1</text>
<line x1="49.1" y1="666.5" x2="52.3" y2="666.5" stroke="#000" stroke-width="1.1" />
<text x="46.3" y="669.7" font-size="10" text-anchor="end" font-weight="normal" fill="#1a1a1a" color="#1a1a1a" textLength="16.43" lengthAdjust="spacingAndGlyphs" >0.01</text>
<line x1="49.1" y1="709.5" x2="52.3" y2="709.5" stroke="#000" stroke-width="1.1" />
<text x="46.3" y="712.7" font-size="10" text-anchor="end" font-weight="normal" fill="#1a1a1a" color="#1a1a1a" textLength="21.2" lengthAdjust="spacingAndGlyphs" >0.001</text>
<line x1="52" y1="709.3" x2="246.5" y2="709.3" stroke="#000" stroke-width="1.1" />
<line x1="107.1" y1="709.3" x2="107.1" y2="712.3" stroke="#000" stroke-width="1.1" />
<text x="107.1" y="722.7" font-size="8.2" text-anchor="middle" font-weight="normal" fill="#1a1a1a" color="#1a1a1a" textLength="55.4" lengthAdjust="spacingAndGlyphs" >Bfl-1 Negative</text>
<line x1="190.2" y1="709.3" x2="190.2" y2="712.3" stroke="#000" stroke-width="1.1" />
<text x="190.2" y="722.7" font-size="8.2" text-anchor="middle" font-weight="normal" fill="#1a1a1a" color="#1a1a1a" textLength="49.6" lengthAdjust="spacingAndGlyphs" >Bfl-1 Positive</text>
<text transform="translate(19.2,642.3) rotate(-90)" font-size="10" text-anchor="middle" fill="#1a1a1a" color="#1a1a1a" textLength="118" lengthAdjust="spacingAndGlyphs">Combination caspase EC<tspan font-size="7" dy="2">50</tspan><tspan dy="-2"> (&#181;M)</tspan></text>
<path d="M107 594.9 V587.3 H190.5 V594.9" fill="none" stroke="#222" stroke-width="1"/>
<text x="148.7" y="585.8" font-size="7" text-anchor="middle" font-weight="normal" fill="#222" color="#222" >*</text>
<circle cx="91.9" cy="601" r="1.55" fill="#17377c"/>
<circle cx="98.3" cy="601" r="1.55" fill="#17377c"/>
<circle cx="104.6" cy="601" r="1.55" fill="#17377c"/>
<circle cx="110.6" cy="601" r="1.55" fill="#17377c"/>
<circle cx="116.8" cy="601" r="1.55" fill="#17377c"/>
<circle cx="123.2" cy="601" r="1.55" fill="#17377c"/>
<circle cx="104.6" cy="607" r="1.55" fill="#17377c"/>
<circle cx="110.6" cy="604.6" r="1.55" fill="#17377c"/>
<circle cx="104.6" cy="612.1" r="1.55" fill="#17377c"/>
<circle cx="110.6" cy="611" r="1.55" fill="#17377c"/>
<circle cx="107.7" cy="618" r="1.55" fill="#17377c"/>
<circle cx="113.7" cy="618.9" r="1.55" fill="#17377c"/>
<circle cx="101.4" cy="621.1" r="1.55" fill="#17377c"/>
<circle cx="113.7" cy="625.6" r="1.55" fill="#17377c"/>
<circle cx="101.4" cy="629.2" r="1.55" fill="#17377c"/>
<circle cx="107.7" cy="628.5" r="1.55" fill="#17377c"/>
<circle cx="113.7" cy="630.2" r="1.55" fill="#17377c"/>
<circle cx="107.7" cy="632.6" r="1.55" fill="#17377c"/>
<circle cx="113.7" cy="633.9" r="1.55" fill="#17377c"/>
<circle cx="101.4" cy="635.7" r="1.55" fill="#17377c"/>
<circle cx="98.3" cy="642.7" r="1.55" fill="#17377c"/>
<circle cx="104.6" cy="641.3" r="1.55" fill="#17377c"/>
<circle cx="110.6" cy="642.4" r="1.55" fill="#17377c"/>
<circle cx="116.8" cy="641.7" r="1.55" fill="#17377c"/>
<circle cx="104.6" cy="656.5" r="1.55" fill="#17377c"/>
<circle cx="110.6" cy="659.5" r="1.55" fill="#17377c"/>
<circle cx="104.6" cy="662.6" r="1.55" fill="#17377c"/>
<circle cx="107.7" cy="673.4" r="1.55" fill="#17377c"/>
<circle cx="107.7" cy="684.1" r="1.55" fill="#17377c"/>
<circle cx="98.3" cy="687.5" r="1.55" fill="#17377c"/>
<circle cx="91.9" cy="688.8" r="1.55" fill="#17377c"/>
<circle cx="104.6" cy="688.8" r="1.55" fill="#17377c"/>
<circle cx="110.6" cy="688.8" r="1.55" fill="#17377c"/>
<circle cx="116.8" cy="688.8" r="1.55" fill="#17377c"/>
<circle cx="123.2" cy="688.8" r="1.55" fill="#17377c"/>
<circle cx="174.9" cy="600.8" r="1.55" fill="#b0041f"/>
<circle cx="181.1" cy="600.8" r="1.55" fill="#b0041f"/>
<circle cx="187.2" cy="600.8" r="1.55" fill="#b0041f"/>
<circle cx="193.5" cy="600.8" r="1.55" fill="#b0041f"/>
<circle cx="199.5" cy="602" r="1.55" fill="#b0041f"/>
<circle cx="205.8" cy="600.8" r="1.55" fill="#b0041f"/>
<circle cx="190.5" cy="605.4" r="1.55" fill="#b0041f"/>
<circle cx="187.2" cy="611.2" r="1.55" fill="#b0041f"/>
<circle cx="193.5" cy="614.2" r="1.55" fill="#b0041f"/>
<circle cx="187.2" cy="616.5" r="1.55" fill="#b0041f"/>
<circle cx="190.5" cy="619.5" r="1.55" fill="#b0041f"/>
<circle cx="184.2" cy="623.1" r="1.55" fill="#b0041f"/>
<circle cx="196.6" cy="621.2" r="1.55" fill="#b0041f"/>
<circle cx="187.2" cy="640.8" r="1.55" fill="#b0041f"/>
<circle cx="193.5" cy="639.5" r="1.55" fill="#b0041f"/>
<circle cx="190.5" cy="662.8" r="1.55" fill="#b0041f"/>
<circle cx="190.5" cy="688.9" r="1.55" fill="#b0041f"/>
<line x1="80.1" y1="638.5" x2="135.3" y2="638.5" stroke="#111" stroke-width="1.3" />
<line x1="163.1" y1="620.3" x2="217.7" y2="620.3" stroke="#111" stroke-width="1.3" />
<text x="272.4" y="570.9" font-size="12.9" font-weight="bold" fill="#000" style="stroke:#000;stroke-width:0.35px">H</text>
<line x1="312.3" y1="577.6" x2="312.3" y2="710" stroke="#000" stroke-width="1.1" />
<line x1="309.1" y1="579.9" x2="312.3" y2="579.9" stroke="#000" stroke-width="1.1" />
<text x="306.1" y="583.1" font-size="10" text-anchor="end" font-weight="normal" fill="#1a1a1a" color="#1a1a1a" textLength="14.2" lengthAdjust="spacingAndGlyphs" >250</text>
<line x1="309.1" y1="604.8" x2="312.3" y2="604.8" stroke="#000" stroke-width="1.1" />
<text x="306.1" y="608" font-size="10" text-anchor="end" font-weight="normal" fill="#1a1a1a" color="#1a1a1a" textLength="14.2" lengthAdjust="spacingAndGlyphs" >200</text>
<line x1="309.1" y1="629.6" x2="312.3" y2="629.6" stroke="#000" stroke-width="1.1" />
<text x="306.1" y="632.8" font-size="10" text-anchor="end" font-weight="normal" fill="#1a1a1a" color="#1a1a1a" textLength="14.2" lengthAdjust="spacingAndGlyphs" >150</text>
<line x1="309.1" y1="654.5" x2="312.3" y2="654.5" stroke="#000" stroke-width="1.1" />
<text x="306.1" y="657.7" font-size="10" text-anchor="end" font-weight="normal" fill="#1a1a1a" color="#1a1a1a" textLength="14.2" lengthAdjust="spacingAndGlyphs" >100</text>
<line x1="309.1" y1="679.3" x2="312.3" y2="679.3" stroke="#000" stroke-width="1.1" />
<text x="306.1" y="682.5" font-size="10" text-anchor="end" font-weight="normal" fill="#1a1a1a" color="#1a1a1a" textLength="9.43" lengthAdjust="spacingAndGlyphs" >50</text>
<line x1="309.1" y1="704.2" x2="312.3" y2="704.2" stroke="#000" stroke-width="1.1" />
<text x="306.1" y="707.4" font-size="10" text-anchor="end" font-weight="normal" fill="#1a1a1a" color="#1a1a1a" textLength="4.66" lengthAdjust="spacingAndGlyphs" >0</text>
<line x1="312" y1="709.3" x2="506.5" y2="709.3" stroke="#000" stroke-width="1.1" />
<line x1="367.1" y1="709.3" x2="367.1" y2="712.3" stroke="#000" stroke-width="1.1" />
<text x="367.1" y="722.7" font-size="8.2" text-anchor="middle" font-weight="normal" fill="#1a1a1a" color="#1a1a1a" textLength="55.4" lengthAdjust="spacingAndGlyphs" >Bfl-1 Negative</text>
<line x1="450.2" y1="709.3" x2="450.2" y2="712.3" stroke="#000" stroke-width="1.1" />
<text x="450.2" y="722.7" font-size="8.2" text-anchor="middle" font-weight="normal" fill="#1a1a1a" color="#1a1a1a" textLength="49.6" lengthAdjust="spacingAndGlyphs" >Bfl-1 Positive</text>
<text transform="translate(285.6,642.9) rotate(-90)" font-size="10" text-anchor="middle" fill="#1a1a1a" color="#1a1a1a" textLength="94.2" lengthAdjust="spacingAndGlyphs">Combination caspase AUC</text>
<path d="M367.3 592.4 V584.4 H450.8 V592.4" fill="none" stroke="#222" stroke-width="1"/>
<text x="409" y="583.2" font-size="7" text-anchor="middle" font-weight="normal" fill="#222" color="#222" >*</text>
<circle cx="364.6" cy="598.9" r="1.55" fill="#17377c"/>
<circle cx="371" cy="596.6" r="1.55" fill="#17377c"/>
<circle cx="367.7" cy="603.4" r="1.55" fill="#17377c"/>
<circle cx="371" cy="607" r="1.55" fill="#17377c"/>
<circle cx="364.6" cy="609.3" r="1.55" fill="#17377c"/>
<circle cx="371" cy="611.7" r="1.55" fill="#17377c"/>
<circle cx="364.6" cy="614.7" r="1.55" fill="#17377c"/>
<circle cx="371" cy="616" r="1.55" fill="#17377c"/>
<circle cx="364.6" cy="618.7" r="1.55" fill="#17377c"/>
<circle cx="367.7" cy="625.5" r="1.55" fill="#17377c"/>
<circle cx="364.6" cy="636" r="1.55" fill="#17377c"/>
<circle cx="371" cy="634.6" r="1.55" fill="#17377c"/>
<circle cx="367.7" cy="642.7" r="1.55" fill="#17377c"/>
<circle cx="361.4" cy="644.8" r="1.55" fill="#17377c"/>
<circle cx="380.1" cy="643.7" r="1.55" fill="#17377c"/>
<circle cx="355.3" cy="647.1" r="1.55" fill="#17377c"/>
<circle cx="367.7" cy="646.7" r="1.55" fill="#17377c"/>
<circle cx="373.7" cy="645.8" r="1.55" fill="#17377c"/>
<circle cx="380.1" cy="647.8" r="1.55" fill="#17377c"/>
<circle cx="367.7" cy="654.5" r="1.55" fill="#17377c"/>
<circle cx="364.6" cy="664.6" r="1.55" fill="#17377c"/>
<circle cx="371" cy="666.4" r="1.55" fill="#17377c"/>
<circle cx="364.6" cy="668" r="1.55" fill="#17377c"/>
<circle cx="367.7" cy="672" r="1.55" fill="#17377c"/>
<circle cx="358.3" cy="677" r="1.55" fill="#17377c"/>
<circle cx="364.6" cy="675.4" r="1.55" fill="#17377c"/>
<circle cx="370.8" cy="676.5" r="1.55" fill="#17377c"/>
<circle cx="377.1" cy="678.5" r="1.55" fill="#17377c"/>
<circle cx="358.3" cy="681.4" r="1.55" fill="#17377c"/>
<circle cx="370.8" cy="681.4" r="1.55" fill="#17377c"/>
<circle cx="364.6" cy="691.3" r="1.55" fill="#17377c"/>
<circle cx="370.8" cy="690.5" r="1.55" fill="#17377c"/>
<circle cx="361.4" cy="697.6" r="1.55" fill="#17377c"/>
<circle cx="367.7" cy="697.2" r="1.55" fill="#17377c"/>
<circle cx="373.7" cy="697.6" r="1.55" fill="#17377c"/>
<circle cx="450.5" cy="611.4" r="1.55" fill="#b0041f"/>
<circle cx="450.5" cy="624.2" r="1.55" fill="#b0041f"/>
<circle cx="450.5" cy="643.7" r="1.55" fill="#b0041f"/>
<circle cx="450.5" cy="647.8" r="1.55" fill="#b0041f"/>
<circle cx="450.5" cy="663.9" r="1.55" fill="#b0041f"/>
<circle cx="441.5" cy="676.2" r="1.55" fill="#b0041f"/>
<circle cx="441.5" cy="679.9" r="1.55" fill="#b0041f"/>
<circle cx="447.6" cy="677.9" r="1.55" fill="#b0041f"/>
<circle cx="453.8" cy="678.8" r="1.55" fill="#b0041f"/>
<circle cx="460.1" cy="677.9" r="1.55" fill="#b0041f"/>
<circle cx="450.5" cy="684.2" r="1.55" fill="#b0041f"/>
<circle cx="450.5" cy="688.3" r="1.55" fill="#b0041f"/>
<circle cx="447.6" cy="693.9" r="1.55" fill="#b0041f"/>
<circle cx="441.5" cy="696.6" r="1.55" fill="#b0041f"/>
<circle cx="453.8" cy="696.6" r="1.55" fill="#b0041f"/>
<circle cx="460.1" cy="696.1" r="1.55" fill="#b0041f"/>
<circle cx="450.5" cy="701.3" r="1.55" fill="#b0041f"/>
<line x1="340.1" y1="661.9" x2="395" y2="661.9" stroke="#111" stroke-width="1.3" />
<line x1="423.1" y1="682.2" x2="478.3" y2="682.2" stroke="#111" stroke-width="1.3" />
<rect x="0" y="0" width="520" height="1.1" fill="#000"/><rect x="0" y="0" width="1.05" height="732" fill="#000"/><rect x="518.95" y="0" width="1.05" height="732" fill="#000"/><rect x="0" y="730.35" width="520" height="1.65" fill="#000"/>
</svg></body></html>
